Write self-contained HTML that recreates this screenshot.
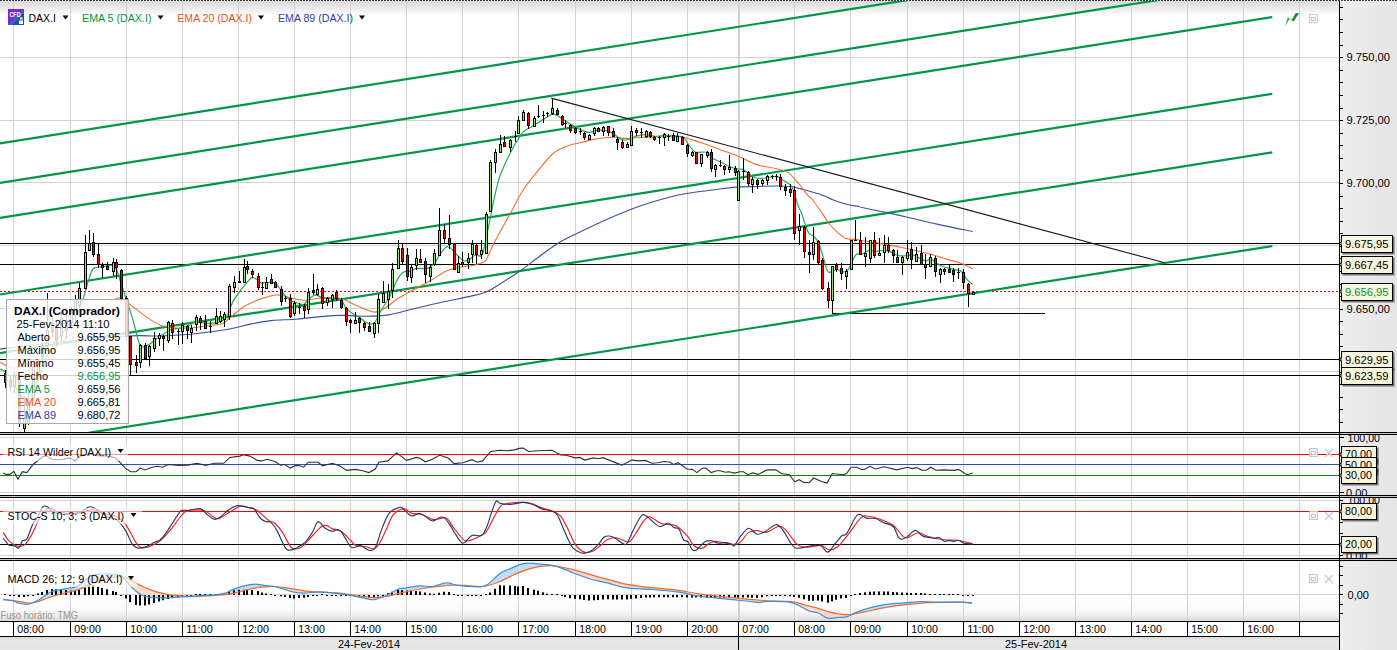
<!DOCTYPE html><html><head><meta charset="utf-8"><style>
html,body{margin:0;padding:0;background:#fff;overflow:hidden}
svg{display:block;font-family:"Liberation Sans",sans-serif}
</style></head><body>
<svg width="1397" height="650" viewBox="0 0 1397 650">
<defs>
<linearGradient id="hdr" x1="0" y1="0" x2="0" y2="1"><stop offset="0" stop-color="#d6d6d6"/><stop offset="1" stop-color="#ffffff"/></linearGradient>
<linearGradient id="axg" x1="0" y1="0" x2="1" y2="0"><stop offset="0" stop-color="#eeeeee"/><stop offset="1" stop-color="#e4e4e4"/></linearGradient>
<linearGradient id="botg" x1="0" y1="0" x2="0" y2="1"><stop offset="0" stop-color="#ffffff" stop-opacity="0"/><stop offset="1" stop-color="#d8d8d8"/></linearGradient>
<linearGradient id="dateg" x1="0" y1="0" x2="0" y2="1"><stop offset="0" stop-color="#d8d8d8"/><stop offset="0.3" stop-color="#e8e8e8"/><stop offset="1" stop-color="#e4e4e4"/></linearGradient>
<filter id="sh" x="-20%" y="-30%" width="150%" height="170%"><feDropShadow dx="1.5" dy="1.5" stdDeviation="0.7" flood-color="#000" flood-opacity="0.5"/></filter>
<clipPath id="cpMain"><rect x="0" y="1" width="1339" height="431"/></clipPath>
<clipPath id="cpRSI"><rect x="0" y="435" width="1339" height="60"/></clipPath>
<clipPath id="cpSTO"><rect x="0" y="498" width="1339" height="60"/></clipPath>
<clipPath id="cpMAC"><rect x="0" y="561" width="1339" height="60"/></clipPath>
<clipPath id="cpAxR"><rect x="1340" y="435" width="57" height="60"/></clipPath>
<clipPath id="cpAxS"><rect x="1340" y="498" width="57" height="60"/></clipPath>
<clipPath id="cpAxM"><rect x="1340" y="1" width="57" height="431"/></clipPath>
</defs>
<rect x="0" y="0" width="1397" height="650" fill="#fff"/>

<rect x="0" y="0" width="1339" height="16" fill="url(#hdr)"/>
<rect x="1340" y="0" width="57" height="650" fill="url(#axg)"/>
<rect x="0" y="603" width="1339" height="18" fill="url(#botg)"/>
<rect x="0" y="637" width="1339" height="13" fill="url(#dateg)"/>
<path d="M13.5 1V432M13.5 435V495M13.5 498V558M13.5 561V621M70.5 1V432M70.5 435V495M70.5 498V558M70.5 561V621M126.5 1V432M126.5 435V495M126.5 498V558M126.5 561V621M182.5 1V432M182.5 435V495M182.5 498V558M182.5 561V621M238.5 1V432M238.5 435V495M238.5 498V558M238.5 561V621M294.5 1V432M294.5 435V495M294.5 498V558M294.5 561V621M350.5 1V432M350.5 435V495M350.5 498V558M350.5 561V621M406.5 1V432M406.5 435V495M406.5 498V558M406.5 561V621M462.5 1V432M462.5 435V495M462.5 498V558M462.5 561V621M518.5 1V432M518.5 435V495M518.5 498V558M518.5 561V621M575.5 1V432M575.5 435V495M575.5 498V558M575.5 561V621M631.5 1V432M631.5 435V495M631.5 498V558M631.5 561V621M687.5 1V432M687.5 435V495M687.5 498V558M687.5 561V621M738.5 1V432M738.5 435V495M738.5 498V558M738.5 561V621M794.5 1V432M794.5 435V495M794.5 498V558M794.5 561V621M850.5 1V432M850.5 435V495M850.5 498V558M850.5 561V621M907.5 1V432M907.5 435V495M907.5 498V558M907.5 561V621M963.5 1V432M963.5 435V495M963.5 498V558M963.5 561V621M1019.5 1V432M1019.5 435V495M1019.5 498V558M1019.5 561V621M1075.5 1V432M1075.5 435V495M1075.5 498V558M1075.5 561V621M1131.5 1V432M1131.5 435V495M1131.5 498V558M1131.5 561V621M1187.5 1V432M1187.5 435V495M1187.5 498V558M1187.5 561V621M1243.5 1V432M1243.5 435V495M1243.5 498V558M1243.5 561V621M1299.5 1V432M1299.5 435V495M1299.5 498V558M1299.5 561V621M0 57.5H1339M0 120.5H1339M0 182.5H1339M0 245.5H1339M0 308.5H1339M0 371.5H1339M0 437.5H1339M0 492.5H1339M0 500.5H1339M0 555.5H1339M0 594.5H1339" stroke="#d2d2d2" stroke-width="1" fill="none" shape-rendering="crispEdges"/>
<path d="M739 1V432M739 435V495M739 498V558M739 561V621" stroke="#d2d2d2" stroke-width="2" fill="none" shape-rendering="crispEdges"/>
<path d="M0 0.5H1397" stroke="#404040" stroke-width="1" stroke-dasharray="2 1" shape-rendering="crispEdges"/>
<g clip-path="url(#cpMain)">
<path d="M0 243.5H1339M0 264.5H1339M0 359.5H1339M0 375.5H1339M832 313.5H1045" stroke="#000" stroke-width="1" shape-rendering="crispEdges"/>
<path d="M0 291.5H1339" stroke="#ff0000" stroke-width="1" stroke-dasharray="2 2" shape-rendering="crispEdges"/>
<path d="M0 143.3 L1272.3 -57.47M0 182.8 L1272.3 -17.97M0 217.8 L1272.3 17.03M0 294.5 L1272.3 93.73M0 353.1 L1272.3 152.33M0 446.8 L1272.3 246.03" stroke="#00964a" stroke-width="2.2" fill="none"/>
<path d="M551.2 98.1 L1164.6 262.7" stroke="#1a1a1a" stroke-width="1.1" fill="none"/>
<path d="M0.0 349.0 C10.0 347.8 38.7 344.2 60.0 342.0 C81.3 339.8 111.3 337.0 128.0 336.0 C144.7 335.0 148.8 336.4 160.0 336.0 C171.2 335.6 183.4 335.0 195.0 333.8 C206.6 332.6 220.4 330.6 229.6 329.0 C238.8 327.4 243.5 325.5 250.4 324.1 C257.3 322.7 263.8 321.4 271.2 320.6 C278.6 319.8 287.6 319.9 295.0 319.3 C302.4 318.7 307.8 317.8 315.4 317.1 C323.0 316.5 332.4 315.5 340.8 315.4 C349.2 315.3 357.9 316.4 366.1 316.3 C374.3 316.2 382.2 315.8 390.0 314.6 C397.8 313.4 404.3 311.0 412.7 309.0 C421.1 307.0 430.8 304.6 440.4 302.5 C449.9 300.4 462.4 298.1 470.0 296.4 C477.6 294.6 481.0 294.1 486.0 292.0 C491.0 289.9 494.3 287.5 500.0 284.0 C505.7 280.5 513.3 275.7 520.0 271.0 C526.7 266.3 533.3 260.8 540.0 256.0 C546.7 251.2 553.3 246.0 560.0 242.0 C566.7 238.0 571.7 236.0 580.0 232.0 C588.3 228.0 600.0 222.3 610.0 218.0 C620.0 213.7 630.0 209.5 640.0 206.0 C650.0 202.5 661.7 199.2 670.0 197.0 C678.3 194.8 682.6 194.2 690.0 193.0 C697.4 191.8 706.1 190.7 714.3 189.7 C722.4 188.7 731.6 187.4 738.9 186.9 C746.2 186.4 752.1 186.7 758.0 186.5 C763.9 186.3 768.7 186.0 774.1 186.0 C779.5 186.0 785.3 185.9 790.3 186.5 C795.3 187.1 799.4 188.5 804.3 189.8 C809.1 191.1 814.5 192.4 819.4 194.1 C824.2 195.8 828.9 198.3 833.4 200.0 C837.9 201.7 842.2 203.2 846.3 204.3 C850.4 205.4 855.4 205.9 858.0 206.4 C860.6 206.9 857.1 206.5 862.0 207.5 C866.9 208.5 878.9 210.8 887.4 212.6 C895.9 214.4 904.2 216.5 912.7 218.5 C921.2 220.5 928.1 222.2 938.1 224.4 C948.1 226.6 967.0 230.4 972.8 231.6" stroke="#3c50a0" stroke-width="1.1" fill="none"/>
<path d="M0.0 362.0 C2.5 363.0 8.3 368.3 15.0 368.0 C21.7 367.7 30.8 365.5 40.0 360.0 C49.2 354.5 60.0 343.3 70.0 335.0 C80.0 326.7 92.0 316.2 100.0 310.0 C108.0 303.8 113.3 299.2 118.0 298.0 C122.7 296.8 123.5 300.0 128.0 303.0 C132.5 306.0 139.7 312.3 145.0 316.0 C150.3 319.7 155.0 323.0 160.0 325.0 C165.0 327.0 170.0 327.5 175.0 328.0 C180.0 328.5 184.3 328.4 190.0 328.0 C195.7 327.6 203.5 326.3 208.9 325.5 C214.3 324.7 219.2 324.7 222.7 323.4 C226.1 322.1 227.3 319.8 229.6 317.9 C231.9 316.0 234.3 314.1 236.6 312.3 C238.9 310.5 240.7 308.5 243.5 306.8 C246.3 305.1 249.7 303.4 253.2 301.9 C256.7 300.4 260.6 298.9 264.3 297.8 C268.0 296.7 272.1 295.4 275.3 295.0 C278.5 294.6 281.2 295.2 283.6 295.7 C286.1 296.1 286.7 296.9 290.0 297.7 C293.3 298.4 297.9 300.2 303.5 300.2 C309.1 300.2 317.6 298.0 323.8 297.7 C330.0 297.4 335.2 297.1 340.8 298.5 C346.4 299.9 352.1 303.8 357.7 306.1 C363.3 308.4 370.1 311.8 374.6 312.1 C379.2 312.4 381.4 310.2 385.0 308.1 C388.6 306.1 392.4 302.3 396.1 299.8 C399.8 297.3 401.6 296.4 407.1 293.3 C412.6 290.2 422.8 285.0 429.3 281.3 C435.8 277.6 441.0 273.5 445.9 271.2 C450.8 268.9 454.8 268.4 458.8 267.5 C462.8 266.6 466.5 266.6 470.0 266.0 C473.5 265.4 477.3 264.6 480.0 263.6 C482.7 262.6 484.0 262.8 486.0 260.0 C488.0 257.2 489.7 251.7 492.0 247.0 C494.3 242.3 496.9 237.6 500.0 232.0 C503.1 226.4 506.4 220.5 510.3 213.5 C514.2 206.5 518.6 197.0 523.3 189.8 C528.0 182.6 533.3 176.5 538.3 170.4 C543.3 164.3 548.4 157.3 553.4 153.2 C558.4 149.1 563.6 147.4 568.5 145.6 C573.4 143.8 578.6 143.1 582.8 142.1 C587.0 141.1 589.9 140.1 593.5 139.4 C597.1 138.7 600.7 138.2 604.3 137.8 C607.9 137.5 611.5 137.2 615.1 137.3 C618.7 137.4 622.2 138.3 625.8 138.4 C629.4 138.5 633.0 138.0 636.6 137.8 C640.2 137.6 641.5 137.3 647.4 137.1 C653.3 136.9 666.0 136.8 672.0 136.8 C678.0 136.9 678.5 136.4 683.5 137.4 C688.5 138.4 695.8 140.9 701.9 142.9 C708.0 144.9 714.2 147.4 720.4 149.7 C726.6 152.0 732.6 153.9 738.9 156.5 C745.2 159.1 752.1 163.1 758.0 165.0 C763.9 166.9 769.1 166.9 774.1 168.2 C779.1 169.4 784.9 170.9 788.1 172.5 C791.3 174.1 791.3 175.6 793.5 177.9 C795.7 180.2 798.8 183.6 801.1 186.5 C803.4 189.4 805.6 192.8 807.5 195.1 C809.4 197.3 810.3 197.0 812.7 200.0 C815.1 203.0 819.2 208.9 822.0 212.9 C824.8 216.9 826.6 220.6 829.4 224.0 C832.2 227.4 835.8 230.9 838.6 233.3 C841.4 235.7 842.6 237.3 846.0 238.4 C849.4 239.5 856.2 239.3 858.9 239.7 C861.6 240.0 858.7 239.9 862.0 240.5 C865.3 241.1 873.3 242.1 878.9 243.1 C884.5 244.1 890.2 245.3 895.8 246.4 C901.4 247.5 907.1 248.5 912.7 249.8 C918.3 251.1 924.0 252.4 929.6 254.0 C935.2 255.6 941.0 257.4 946.6 259.1 C952.2 260.8 959.1 262.6 963.5 264.2 C967.9 265.8 971.2 268.1 972.8 268.9" stroke="#f07030" stroke-width="1.1" fill="none"/>
<path d="M0.0 369.0 C0.8 369.4 3.3 370.3 5.0 371.5 C6.7 372.7 7.5 372.1 10.0 376.0 C12.5 379.9 16.7 391.3 20.0 395.0 C23.3 398.7 26.7 401.3 30.0 398.0 C33.3 394.7 36.7 383.0 40.0 375.0 C43.3 367.0 46.7 356.5 50.0 350.0 C53.3 343.5 56.7 340.2 60.0 336.0 C63.3 331.8 67.0 329.0 70.0 325.0 C73.0 321.0 75.9 316.2 78.0 312.0 C80.1 307.8 81.1 305.0 82.8 300.0 C84.5 295.0 86.3 287.2 88.0 282.0 C89.7 276.8 90.9 271.5 93.0 269.0 C95.1 266.5 97.1 267.5 100.6 267.0 C104.1 266.5 110.8 263.8 114.0 266.0 C117.2 268.2 117.9 274.3 120.0 280.0 C122.1 285.7 124.3 293.3 126.5 300.0 C128.7 306.7 130.8 312.5 133.0 320.0 C135.2 327.5 137.5 340.8 140.0 345.0 C142.5 349.2 145.5 345.8 148.0 345.0 C150.5 344.2 152.7 341.7 155.0 340.0 C157.3 338.3 159.5 336.7 162.0 335.0 C164.5 333.3 167.0 331.2 170.0 330.0 C173.0 328.8 176.7 328.8 180.0 328.0 C183.3 327.2 187.5 326.0 190.0 325.0 C192.5 324.0 191.8 322.3 195.0 322.0 C198.2 321.7 204.3 323.6 208.9 323.4 C213.5 323.2 219.5 322.2 222.7 320.6 C225.9 319.0 226.6 316.7 228.2 313.7 C229.8 310.7 230.3 306.5 232.4 302.6 C234.5 298.7 238.2 293.6 240.7 290.2 C243.2 286.8 245.8 284.0 247.6 281.9 C249.4 279.8 250.2 278.0 251.8 277.7 C253.4 277.4 255.7 278.9 257.3 279.8 C258.9 280.7 259.9 282.8 261.5 283.2 C263.1 283.6 264.7 282.5 267.0 282.5 C269.3 282.5 273.0 281.9 275.3 283.2 C277.6 284.5 279.0 287.9 280.9 290.2 C282.8 292.5 284.5 295.3 286.4 297.1 C288.2 298.9 290.3 300.2 292.0 301.2 C293.7 302.1 294.9 302.2 296.8 302.8 C298.7 303.4 301.6 305.1 303.5 304.5 C305.4 303.9 306.3 301.0 308.3 299.4 C310.3 297.8 313.1 295.4 315.4 295.1 C317.7 294.8 319.6 297.1 322.1 297.7 C324.6 298.3 327.5 298.2 330.6 298.5 C333.7 298.8 338.3 297.8 340.8 299.4 C343.3 300.9 343.6 305.3 345.8 307.8 C348.1 310.3 352.0 313.1 354.3 314.6 C356.6 316.2 357.7 316.0 359.4 317.1 C361.1 318.2 362.8 320.3 364.5 321.4 C366.2 322.5 367.8 323.7 369.5 323.9 C371.2 324.1 372.9 324.5 374.6 322.7 C376.3 320.9 378.0 315.9 379.7 312.9 C381.4 309.9 383.1 307.3 384.8 304.5 C386.5 301.7 388.7 298.3 390.0 296.0 C391.3 293.7 391.1 293.5 392.4 290.6 C393.7 287.7 396.0 281.7 397.9 278.6 C399.8 275.5 401.4 273.3 403.5 272.1 C405.6 270.9 408.7 271.8 410.8 271.2 C412.9 270.6 413.6 268.9 416.4 268.4 C419.2 267.9 424.5 269.2 427.4 268.4 C430.3 267.6 431.7 266.2 433.9 263.8 C436.1 261.4 438.4 256.5 440.4 253.7 C442.4 250.9 444.4 248.3 445.9 247.2 C447.4 246.1 448.2 246.4 449.6 247.2 C451.0 248.0 452.1 249.7 454.2 251.8 C456.3 254.0 460.2 258.7 462.5 260.1 C464.8 261.5 465.9 261.0 468.0 260.1 C470.1 259.2 473.1 255.8 475.4 255.0 C477.7 254.2 480.1 258.2 482.0 255.0 C483.9 251.8 485.3 241.8 486.6 236.0 C487.9 230.2 488.6 226.3 489.9 220.0 C491.2 213.7 492.6 205.6 494.2 198.4 C495.8 191.2 497.6 183.0 499.6 176.9 C501.6 170.8 503.7 166.8 506.0 161.8 C508.3 156.8 511.5 150.6 513.6 146.7 C515.8 142.8 517.3 140.6 518.9 138.1 C520.5 135.6 520.8 133.8 523.3 131.6 C525.8 129.4 530.8 127.2 534.0 125.2 C537.2 123.2 539.6 121.6 542.7 119.8 C545.8 118.0 549.7 114.9 552.4 114.4 C555.1 113.9 556.1 115.2 558.8 116.6 C561.5 118.0 565.8 121.3 568.5 123.0 C571.2 124.7 573.2 125.4 575.2 126.5 C577.2 127.6 578.3 128.8 580.6 129.8 C582.9 130.8 586.3 132.3 589.2 132.4 C592.1 132.5 594.8 130.6 597.8 130.3 C600.8 130.0 604.6 130.0 607.5 130.8 C610.4 131.6 613.0 133.8 615.1 135.1 C617.2 136.4 618.6 138.1 620.4 138.9 C622.2 139.7 624.0 140.1 625.8 140.0 C627.6 139.9 629.4 139.0 631.2 138.4 C633.0 137.8 634.3 136.8 636.6 136.2 C638.9 135.6 642.3 134.6 645.2 134.6 C648.1 134.6 650.8 136.0 653.8 136.2 C656.8 136.4 659.6 135.7 663.5 135.7 C667.4 135.7 674.0 135.9 677.3 136.2 C680.6 136.5 681.5 135.8 683.5 137.4 C685.5 139.0 687.6 143.5 689.6 146.0 C691.6 148.5 692.9 151.2 695.8 152.2 C698.7 153.2 704.2 151.3 706.9 152.2 C709.6 153.1 709.5 156.1 711.8 157.7 C714.0 159.3 717.5 160.6 720.4 162.0 C723.3 163.4 726.3 165.2 729.0 166.3 C731.7 167.4 734.1 168.3 736.4 168.8 C738.7 169.3 740.5 168.6 742.6 169.4 C744.7 170.2 746.5 172.3 748.7 173.7 C751.0 175.1 753.1 177.3 756.1 178.0 C759.1 178.7 763.2 178.2 766.6 177.9 C770.0 177.6 774.0 176.2 776.3 176.3 C778.6 176.4 778.3 177.1 780.6 178.5 C782.9 179.9 788.1 182.8 790.3 184.9 C792.4 187.0 792.2 187.5 793.5 190.8 C794.8 194.1 796.4 200.9 797.8 204.8 C799.2 208.8 800.8 211.1 802.1 214.5 C803.4 217.9 804.2 222.2 805.4 225.3 C806.5 228.4 807.5 231.4 809.0 233.3 C810.5 235.2 812.9 235.2 814.6 237.0 C816.3 238.8 817.7 240.7 819.2 244.4 C820.7 248.1 822.3 254.5 823.8 259.1 C825.3 263.7 826.2 270.4 828.4 272.1 C830.6 273.8 834.5 269.3 836.8 269.3 C839.1 269.3 840.5 272.0 842.3 272.1 C844.1 272.2 846.3 271.8 847.8 270.2 C849.3 268.6 850.1 265.4 851.5 262.8 C852.9 260.2 854.5 256.0 856.2 254.5 C858.0 253.0 859.9 254.6 862.0 254.0 C864.1 253.4 866.5 251.1 868.8 250.7 C871.0 250.3 873.5 251.5 875.5 251.5 C877.5 251.5 878.6 250.8 880.6 250.7 C882.6 250.6 885.3 250.3 887.4 250.7 C889.5 251.1 891.5 252.4 893.3 253.2 C895.1 254.0 896.0 255.3 898.4 255.7 C900.8 256.1 905.3 255.8 907.7 255.7 C910.1 255.6 911.0 254.6 912.7 254.9 C914.4 255.2 916.1 256.5 917.8 257.4 C919.5 258.2 921.5 259.4 922.9 260.0 C924.3 260.6 924.9 260.9 926.3 260.8 C927.7 260.7 929.6 258.7 931.3 259.1 C933.0 259.5 934.4 262.0 936.4 263.3 C938.4 264.6 941.0 265.9 943.2 266.7 C945.5 267.5 947.6 267.8 949.9 268.4 C952.1 269.0 954.7 269.5 956.7 270.1 C958.7 270.7 960.1 270.2 961.8 271.8 C963.5 273.4 965.1 277.3 966.9 279.4 C968.7 281.5 971.8 283.6 972.8 284.5" stroke="#22aa5a" stroke-width="1.2" fill="none"/>
<path d="M5.5 370V388M10.5 376V391M14.5 372V393M19.5 376V427M24.5 396V433M28.5 392V425M33.5 362V401M38.5 360V377M42.5 338V363M47.5 293V351M52.5 318V337M56.5 320V346M61.5 312V341M66.5 315V339M71.5 306V329M75.5 295V321M79.5 283V311M85.5 235V289M89.5 230V251M93.5 233V257M98.5 243V268M102.5 263V278M107.5 262V270M113.5 258V276M116.5 259V279M121.5 269V301M126.5 296V341M130.5 336V375M136.5 355V373M140.5 344V368M145.5 343V360M149.5 345V366M154.5 332V352M159.5 333V346M163.5 335V351M168.5 321V343M172.5 320V339M178.5 329V345M182.5 322V344M187.5 325V339M191.5 325V343M196.5 315V331M200.5 316V330M205.5 315V329M210.5 321V333M216.5 308V324M220.5 311V323M224.5 312V327M229.5 284V320M234.5 276V293M239.5 271V283M244.5 259V283M247.5 261V274M252.5 269V278M258.5 273V290M262.5 282V295M266.5 277V289M271.5 274V284M275.5 281V288M281.5 286V306M285.5 296V302M290.5 294V318M294.5 301V316M299.5 303V314M304.5 304V318M308.5 288V314M313.5 274V295M317.5 284V296M322.5 287V309M327.5 297V306M332.5 294V308M336.5 290V301M341.5 298V309M346.5 307V326M350.5 319V333M355.5 312V324M359.5 317V333M364.5 322V331M369.5 322V332M374.5 322V338M378.5 294V333M383.5 281V303M388.5 284V309M392.5 263V298M398.5 240V269M402.5 244V264M407.5 248V281M411.5 265V283M416.5 249V270M420.5 249V263M425.5 258V283M430.5 264V282M434.5 249V266M439.5 208V256M444.5 224V244M449.5 215V249M454.5 243V270M458.5 256V273M462.5 252V267M468.5 253V269M472.5 240V263M476.5 244V264M481.5 240V259M486.5 212V254M490.5 160V212M495.5 149V173M500.5 135V153M504.5 136V147M510.5 139V152M515.5 131V142M518.5 116V134M523.5 110V121M528.5 112V129M534.5 116V127M538.5 105V118M543.5 111V123M547.5 112V117M552.5 98V115M557.5 108V115M562.5 115V126M565.5 120V128M570.5 124V133M575.5 127V134M580.5 128V135M584.5 132V140M589.5 134V140M594.5 127V136M598.5 127V132M603.5 126V136M608.5 126V136M613.5 128V137M617.5 137V150M622.5 140V149M627.5 142V148M631.5 126V146M636.5 128V136M641.5 128V138M646.5 130V138M650.5 131V138M654.5 136V141M659.5 136V144M664.5 133V146M668.5 134V141M673.5 133V141M677.5 133V142M682.5 136V145M687.5 144V157M692.5 151V157M696.5 152V164M701.5 154V167M707.5 151V158M711.5 149V172M715.5 164V177M720.5 160V167M724.5 165V175M729.5 155V173M735.5 166V176M738.5 170V201M743.5 158V180M748.5 171V186M752.5 177V193M757.5 179V189M762.5 179V186M767.5 175V185M772.5 175V179M776.5 174V181M780.5 174V190M785.5 184V196M790.5 184V197M794.5 186V240M799.5 214V245M804.5 226V258M809.5 240V273M813.5 227V260M818.5 240V265M822.5 258V290M828.5 282V308M832.5 266V314M836.5 263V272M841.5 263V280M846.5 269V289M851.5 240V270M855.5 220V241M860.5 232V255M865.5 237V267M870.5 240V263M874.5 232V258M879.5 238V256M884.5 235V263M888.5 237V253M893.5 249V263M897.5 250V263M902.5 256V275M907.5 240V261M911.5 242V269M916.5 247V262M921.5 245V265M925.5 254V279M930.5 254V267M935.5 256V277M940.5 268V283M944.5 268V275M949.5 265V273M953.5 268V282M958.5 268V279M963.5 269V289M968.5 283V307M973.5 291V295" stroke="#000" stroke-width="1" shape-rendering="crispEdges"/>
<path d="M4 373h3v10h-3zM9 380h3v7h-3zM13 376h3v11h-3zM18 380h3v44h-3zM23 418h3v11h-3zM27 400h3v22h-3zM32 367h3v31h-3zM37 365h3v8h-3zM41 345h3v12h-3zM46 330h3v16h-3zM51 323h3v9h-3zM55 325h3v16h-3zM60 318h3v18h-3zM65 320h3v11h-3zM70 312h3v11h-3zM74 300h3v16h-3zM78 288h3v18h-3zM84 252h3v37h-3zM88 243h3v8h-3zM92 242h3v13h-3zM97 254h3v11h-3zM101 265h3v3h-3zM106 266h3v4h-3zM112 262h3v10h-3zM115 262h3v6h-3zM120 270h3v29h-3zM125 298h3v39h-3zM129 336h3v29h-3zM135 362h3v4h-3zM139 345h3v18h-3zM144 345h3v14h-3zM148 346h3v11h-3zM153 338h3v11h-3zM158 335h3v4h-3zM162 336h3v3h-3zM167 322h3v19h-3zM171 323h3v10h-3zM177 331h3v1h-3zM181 325h3v7h-3zM186 326h3v5h-3zM190 328h3v5h-3zM195 317h3v8h-3zM199 318h3v5h-3zM204 321h3v8h-3zM209 326h3v1h-3zM215 316h3v8h-3zM219 316h3v6h-3zM223 314h3v6h-3zM228 286h3v31h-3zM233 282h3v6h-3zM238 281h3v2h-3zM243 267h3v16h-3zM246 266h3v4h-3zM251 271h3v4h-3zM257 276h3v12h-3zM261 287h3v1h-3zM265 282h3v7h-3zM270 279h3v5h-3zM274 282h3v6h-3zM280 289h3v13h-3zM284 298h3v1h-3zM289 298h3v19h-3zM293 303h3v11h-3zM298 307h3v1h-3zM303 306h3v5h-3zM307 292h3v18h-3zM312 290h3v3h-3zM316 289h3v6h-3zM321 288h3v16h-3zM326 298h3v5h-3zM331 295h3v5h-3zM335 292h3v7h-3zM340 300h3v8h-3zM345 308h3v14h-3zM349 320h3v3h-3zM354 320h3v4h-3zM358 318h3v5h-3zM363 323h3v5h-3zM368 326h3v6h-3zM373 323h3v11h-3zM377 299h3v25h-3zM382 293h3v10h-3zM387 291h3v9h-3zM391 269h3v22h-3zM397 248h3v21h-3zM401 248h3v14h-3zM406 255h3v22h-3zM410 267h3v11h-3zM415 258h3v8h-3zM419 259h3v4h-3zM424 261h3v14h-3zM429 267h3v10h-3zM433 253h3v12h-3zM438 230h3v26h-3zM443 230h3v9h-3zM448 238h3v7h-3zM453 244h3v26h-3zM457 263h3v10h-3zM461 262h3v3h-3zM467 258h3v5h-3zM471 244h3v11h-3zM475 245h3v10h-3zM480 250h3v5h-3zM485 214h3v40h-3zM489 162h3v50h-3zM494 152h3v11h-3zM499 144h3v9h-3zM503 142h3v5h-3zM509 140h3v8h-3zM514 136h3v1h-3zM517 120h3v14h-3zM522 112h3v9h-3zM527 113h3v13h-3zM533 118h3v9h-3zM537 116h3v1h-3zM542 115h3v1h-3zM546 113h3v1h-3zM551 108h3v6h-3zM556 110h3v5h-3zM561 116h3v9h-3zM564 123h3v1h-3zM569 125h3v6h-3zM574 128h3v5h-3zM579 131h3v1h-3zM583 133h3v5h-3zM588 135h3v5h-3zM593 128h3v6h-3zM597 128h3v4h-3zM602 127h3v5h-3zM607 126h3v7h-3zM612 131h3v6h-3zM616 139h3v4h-3zM621 142h3v6h-3zM626 144h3v4h-3zM630 131h3v15h-3zM635 130h3v3h-3zM640 132h3v1h-3zM645 131h3v6h-3zM649 132h3v5h-3zM653 137h3v3h-3zM658 137h3v1h-3zM663 134h3v4h-3zM667 136h3v1h-3zM672 135h3v6h-3zM676 136h3v6h-3zM681 137h3v8h-3zM686 145h3v9h-3zM691 152h3v4h-3zM695 152h3v12h-3zM700 154h3v10h-3zM706 152h3v4h-3zM710 152h3v17h-3zM714 165h3v5h-3zM719 165h3v1h-3zM723 166h3v4h-3zM728 167h3v3h-3zM734 168h3v5h-3zM737 171h3v30h-3zM742 171h3v1h-3zM747 172h3v12h-3zM751 179h3v6h-3zM756 180h3v5h-3zM761 180h3v4h-3zM766 176h3v5h-3zM771 176h3v1h-3zM775 176h3v1h-3zM779 177h3v10h-3zM784 187h3v4h-3zM789 189h3v4h-3zM793 190h3v44h-3zM798 226h3v5h-3zM803 227h3v25h-3zM808 252h3v3h-3zM812 242h3v13h-3zM817 241h3v22h-3zM821 260h3v29h-3zM827 288h3v13h-3zM831 266h3v35h-3zM835 265h3v5h-3zM840 268h3v6h-3zM845 271h3v6h-3zM850 240h3v30h-3zM854 240h3v1h-3zM859 240h3v15h-3zM864 253h3v4h-3zM869 240h3v19h-3zM873 240h3v16h-3zM878 253h3v3h-3zM883 245h3v8h-3zM887 245h3v6h-3zM892 250h3v6h-3zM896 257h3v6h-3zM901 257h3v6h-3zM906 252h3v7h-3zM910 249h3v11h-3zM915 254h3v8h-3zM920 253h3v12h-3zM924 264h3v4h-3zM929 257h3v10h-3zM934 258h3v14h-3zM939 269h3v6h-3zM943 269h3v3h-3zM948 269h3v4h-3zM952 270h3v5h-3zM957 272h3v1h-3zM962 272h3v11h-3zM967 284h3v10h-3zM972 292h3v3h-3z" fill="#000" shape-rendering="crispEdges"/>
<path d="M14 377h1v9h-1zM24 419h1v9h-1zM28 401h1v20h-1zM33 368h1v29h-1zM38 366h1v6h-1zM42 346h1v10h-1zM47 331h1v14h-1zM61 319h1v16h-1zM71 313h1v9h-1zM75 301h1v14h-1zM79 289h1v16h-1zM85 253h1v35h-1zM89 244h1v6h-1zM113 263h1v8h-1zM140 346h1v16h-1zM149 347h1v9h-1zM154 339h1v9h-1zM159 336h1v2h-1zM168 323h1v17h-1zM182 326h1v5h-1zM191 329h1v3h-1zM196 318h1v6h-1zM216 317h1v6h-1zM220 317h1v4h-1zM224 315h1v4h-1zM229 287h1v29h-1zM234 283h1v4h-1zM244 268h1v14h-1zM266 283h1v5h-1zM294 304h1v9h-1zM308 293h1v16h-1zM317 290h1v4h-1zM327 299h1v3h-1zM332 296h1v3h-1zM355 321h1v2h-1zM374 324h1v9h-1zM378 300h1v23h-1zM383 294h1v8h-1zM388 292h1v7h-1zM392 270h1v20h-1zM398 249h1v19h-1zM411 268h1v9h-1zM416 259h1v6h-1zM430 268h1v8h-1zM434 254h1v10h-1zM439 231h1v24h-1zM458 264h1v8h-1zM468 259h1v3h-1zM472 245h1v9h-1zM481 251h1v3h-1zM486 215h1v38h-1zM490 163h1v48h-1zM495 153h1v9h-1zM500 145h1v7h-1zM510 141h1v6h-1zM518 121h1v12h-1zM523 113h1v7h-1zM534 119h1v7h-1zM552 109h1v4h-1zM589 136h1v3h-1zM594 129h1v4h-1zM603 128h1v3h-1zM627 145h1v2h-1zM631 132h1v13h-1zM646 132h1v4h-1zM664 135h1v2h-1zM677 137h1v4h-1zM692 153h1v2h-1zM701 155h1v8h-1zM707 153h1v2h-1zM715 166h1v3h-1zM729 168h1v1h-1zM738 172h1v28h-1zM752 180h1v4h-1zM762 181h1v2h-1zM767 177h1v3h-1zM799 227h1v3h-1zM813 243h1v11h-1zM832 267h1v33h-1zM846 272h1v4h-1zM851 241h1v28h-1zM865 254h1v2h-1zM870 241h1v17h-1zM879 254h1v1h-1zM884 246h1v6h-1zM902 258h1v4h-1zM907 253h1v5h-1zM916 255h1v6h-1zM930 258h1v8h-1zM940 270h1v4h-1zM973 293h1v1h-1z" fill="#8ee06a" shape-rendering="crispEdges"/>
<path d="M5 374h1v8h-1zM10 381h1v5h-1zM19 381h1v42h-1zM52 324h1v7h-1zM56 326h1v14h-1zM66 321h1v9h-1zM93 243h1v11h-1zM98 255h1v9h-1zM102 266h1v1h-1zM107 267h1v2h-1zM116 263h1v4h-1zM121 271h1v27h-1zM126 299h1v37h-1zM130 337h1v27h-1zM136 363h1v2h-1zM145 346h1v12h-1zM163 337h1v1h-1zM172 324h1v8h-1zM187 327h1v3h-1zM200 319h1v3h-1zM205 322h1v6h-1zM247 267h1v2h-1zM252 272h1v2h-1zM258 277h1v10h-1zM271 280h1v3h-1zM275 283h1v4h-1zM281 290h1v11h-1zM290 299h1v17h-1zM304 307h1v3h-1zM313 291h1v1h-1zM322 289h1v14h-1zM336 293h1v5h-1zM341 301h1v6h-1zM346 309h1v12h-1zM350 321h1v1h-1zM359 319h1v3h-1zM364 324h1v3h-1zM369 327h1v4h-1zM402 249h1v12h-1zM407 256h1v20h-1zM420 260h1v2h-1zM425 262h1v12h-1zM444 231h1v7h-1zM449 239h1v5h-1zM454 245h1v24h-1zM462 263h1v1h-1zM476 246h1v8h-1zM504 143h1v3h-1zM528 114h1v11h-1zM557 111h1v3h-1zM562 117h1v7h-1zM570 126h1v4h-1zM575 129h1v3h-1zM584 134h1v3h-1zM598 129h1v2h-1zM608 127h1v5h-1zM613 132h1v4h-1zM617 140h1v2h-1zM622 143h1v4h-1zM636 131h1v1h-1zM650 133h1v3h-1zM654 138h1v1h-1zM673 136h1v4h-1zM682 138h1v6h-1zM687 146h1v7h-1zM696 153h1v10h-1zM711 153h1v15h-1zM724 167h1v2h-1zM735 169h1v3h-1zM748 173h1v10h-1zM757 181h1v3h-1zM780 178h1v8h-1zM785 188h1v2h-1zM790 190h1v2h-1zM794 191h1v42h-1zM804 228h1v23h-1zM809 253h1v1h-1zM818 242h1v20h-1zM822 261h1v27h-1zM828 289h1v11h-1zM836 266h1v3h-1zM841 269h1v4h-1zM860 241h1v13h-1zM874 241h1v14h-1zM888 246h1v4h-1zM893 251h1v4h-1zM897 258h1v4h-1zM911 250h1v9h-1zM921 254h1v10h-1zM925 265h1v2h-1zM935 259h1v12h-1zM944 270h1v1h-1zM949 270h1v2h-1zM953 271h1v3h-1zM963 273h1v9h-1zM968 285h1v8h-1z" fill="#ff0000" shape-rendering="crispEdges"/>
</g>
<g transform="translate(8,9)">
<rect x="0" y="0" width="16" height="16" fill="#7a28d0"/>
<path d="M16 0V16H0Z" fill="#2a6cc0"/>
<path d="M16 4V16H4Z" fill="#1a3c90" opacity="0.6"/>
<text x="1.5" y="8" font-size="7" font-weight="bold" fill="#fff" textLength="11" lengthAdjust="spacingAndGlyphs">CFD</text>
<rect x="12" y="8.5" width="2.5" height="2" fill="#fff"/><rect x="11" y="11.5" width="4" height="3.5" fill="#fff"/>
</g>
<text x="28.5" y="22" fill="#000" font-size="11" font-weight="normal" text-anchor="start" textLength="27.5" lengthAdjust="spacingAndGlyphs" >DAX.I</text>
<text x="82" y="22" fill="#009640" font-size="11" font-weight="normal" text-anchor="start" textLength="69.5" lengthAdjust="spacingAndGlyphs" >EMA 5 (DAX.I)</text>
<text x="177.3" y="22" fill="#f05020" font-size="11" font-weight="normal" text-anchor="start" textLength="74.7" lengthAdjust="spacingAndGlyphs" >EMA 20 (DAX.I)</text>
<text x="278" y="22" fill="#3040a0" font-size="11" font-weight="normal" text-anchor="start" textLength="75" lengthAdjust="spacingAndGlyphs" >EMA 89 (DAX.I)</text>
<path d="M62.5 15.5h6l-3 4z" fill="#000"/>
<path d="M157.5 15.5h6l-3 4z" fill="#000"/>
<path d="M258 15.5h6l-3 4z" fill="#000"/>
<path d="M359 15.5h6l-3 4z" fill="#000"/>
<path d="M1285.1 25.8L1287.8 17.2L1291.5 19.7L1295.8 13.2L1298.9 13.2L1293.4 21.5L1289.7 19.1Z" fill="#3cb043"/>
<path d="M1295.8 13.2L1298.9 13.2L1293.4 21.5L1292 20.5Z" fill="#1a8a30"/>
<rect x="1309.5" y="14.5" width="8" height="8" fill="#f8f9fb" stroke="#c8d0dc" stroke-width="1"/><rect x="1311.5" y="17.5" width="4" height="3" fill="none" stroke="#c0c8d4" stroke-width="1"/>
<rect x="6.5" y="299.5" width="122" height="124" fill="#ffffff" fill-opacity="0.82" stroke="#a8a8a8" stroke-width="1"/>
<text x="14" y="314.5" fill="#000" font-size="11" font-weight="bold" text-anchor="start" textLength="106" lengthAdjust="spacingAndGlyphs" >DAX.I (Comprador)</text>
<text x="16.5" y="327.5" fill="#000" font-size="11" font-weight="normal" text-anchor="start" textLength="93" lengthAdjust="spacingAndGlyphs" >25-Fev-2014 11:10</text>
<text x="17.5" y="340.5" fill="#000" font-size="11" font-weight="normal" text-anchor="start" >Aberto</text>
<text x="120.5" y="340.5" fill="#000" font-size="11" font-weight="normal" text-anchor="end" textLength="43" lengthAdjust="spacingAndGlyphs" >9.655,95</text>
<text x="17.5" y="353.5" fill="#000" font-size="11" font-weight="normal" text-anchor="start" >Máximo</text>
<text x="120.5" y="353.5" fill="#000" font-size="11" font-weight="normal" text-anchor="end" textLength="43" lengthAdjust="spacingAndGlyphs" >9.656,95</text>
<text x="17.5" y="366.5" fill="#000" font-size="11" font-weight="normal" text-anchor="start" >Mínimo</text>
<text x="120.5" y="366.5" fill="#000" font-size="11" font-weight="normal" text-anchor="end" textLength="43" lengthAdjust="spacingAndGlyphs" >9.655,45</text>
<text x="17.5" y="379.5" fill="#000" font-size="11" font-weight="normal" text-anchor="start" >Fecho</text>
<text x="120.5" y="379.5" fill="#009640" font-size="11" font-weight="normal" text-anchor="end" textLength="43" lengthAdjust="spacingAndGlyphs" >9.656,95</text>
<text x="17.5" y="392.5" fill="#009640" font-size="11" font-weight="normal" text-anchor="start" >EMA 5</text>
<text x="120.5" y="392.5" fill="#000" font-size="11" font-weight="normal" text-anchor="end" textLength="43" lengthAdjust="spacingAndGlyphs" >9.659,56</text>
<text x="17.5" y="405.5" fill="#f05020" font-size="11" font-weight="normal" text-anchor="start" >EMA 20</text>
<text x="120.5" y="405.5" fill="#000" font-size="11" font-weight="normal" text-anchor="end" textLength="43" lengthAdjust="spacingAndGlyphs" >9.665,81</text>
<text x="17.5" y="418.5" fill="#3040a0" font-size="11" font-weight="normal" text-anchor="start" >EMA 89</text>
<text x="120.5" y="418.5" fill="#000" font-size="11" font-weight="normal" text-anchor="end" textLength="43" lengthAdjust="spacingAndGlyphs" >9.680,72</text>
<g clip-path="url(#cpRSI)">
<path d="M0 454.5H1339" stroke="#ff0000" stroke-width="1" shape-rendering="crispEdges"/>
<path d="M0 464.5H1339" stroke="#3050b0" stroke-width="1" shape-rendering="crispEdges"/>
<path d="M0 475.5H1339" stroke="#108020" stroke-width="1" shape-rendering="crispEdges"/>
<path d="M3.2 473.1 L6.3 474.4 L9.8 474.4 L14.0 471.3 L17.9 479.2 L22.4 471.7 L26.8 472.6 L33.1 464.5 L42.9 456.5 L46.5 456.1 L51.9 459.2 L60.8 459.7 L69.8 457.9 L75.2 460.9 L78.7 456.5 L89.5 453.8 L96.6 455.6 L111.0 456.5 L116.3 458.3 L125.3 468.1 L130.6 471.7 L136.0 471.7 L140.5 468.1 L145.0 469.9 L152.1 467.2 L157.5 466.3 L162.8 467.2 L168.2 464.5 L179.0 465.4 L187.9 465.1 L196.9 463.3 L205.8 465.4 L214.7 463.3 L223.7 463.3 L230.0 457.4 L239.8 456.1 L243.4 454.7 L250.0 456.1 L257.2 460.4 L261.6 460.9 L267.0 459.2 L275.1 461.5 L280.4 465.1 L284.9 464.5 L290.3 468.1 L295.6 465.4 L300.1 465.8 L303.7 467.2 L308.2 462.2 L318.0 462.2 L322.5 465.8 L332.3 463.3 L339.5 465.8 L346.6 470.4 L355.6 469.4 L362.7 470.8 L369.0 472.6 L375.3 469.0 L378.8 462.2 L387.8 460.9 L396.7 452.9 L406.6 460.4 L416.4 457.4 L420.0 458.3 L425.4 461.8 L432.5 459.2 L439.7 455.0 L448.6 458.3 L454.0 463.6 L463.0 462.7 L471.9 459.7 L477.3 462.2 L482.6 460.9 L490.7 451.5 L500.0 450.2 L507.2 450.7 L514.3 449.9 L519.7 448.4 L523.3 448.1 L528.6 451.5 L537.6 450.7 L551.9 450.2 L560.8 455.0 L566.2 455.2 L575.2 457.9 L579.6 457.4 L585.0 460.1 L593.1 457.9 L598.4 458.8 L602.9 457.7 L621.7 465.1 L625.3 463.6 L631.5 460.1 L639.6 460.9 L645.0 460.4 L652.1 463.3 L657.5 462.7 L664.6 461.5 L670.0 462.2 L673.6 464.5 L678.1 462.7 L687.0 469.0 L692.4 469.4 L696.9 472.6 L702.2 468.3 L705.8 468.1 L711.2 472.6 L716.5 470.8 L720.1 470.8 L725.5 472.2 L729.1 471.7 L734.4 473.1 L739.8 471.7 L743.4 471.7 L747.9 474.7 L752.7 472.9 L758.1 474.4 L767.0 469.9 L775.9 469.9 L781.3 473.5 L789.4 474.7 L794.7 481.9 L799.2 479.7 L803.7 482.4 L809.0 482.8 L813.5 478.0 L821.6 481.5 L827.0 483.0 L832.3 473.5 L843.1 474.7 L846.6 473.5 L851.1 467.2 L856.5 467.2 L861.8 469.5 L864.5 469.5 L869.9 466.3 L875.3 469.0 L884.2 466.7 L896.7 469.9 L907.5 467.2 L912.0 468.6 L916.4 467.6 L921.8 470.1 L926.3 470.3 L930.7 467.2 L936.1 470.3 L943.3 469.9 L954.0 470.4 L958.5 469.4 L964.8 473.5 L967.4 474.7 L972.8 472.9" stroke="#303030" stroke-width="1.1" fill="none"/>
<rect x="3" y="445" width="125" height="16" fill="#fff" fill-opacity="0.6"/>
<text x="7.5" y="456" fill="#000" font-size="11" font-weight="normal" text-anchor="start" textLength="103.5" lengthAdjust="spacingAndGlyphs" >RSI 14 Wilder (DAX.I)</text>
<path d="M117.5 449h6l-3 4z" fill="#000"/>
</g>
<g clip-path="url(#cpSTO)">
<path d="M0 511.5H1339" stroke="#ff0000" stroke-width="1" shape-rendering="crispEdges"/>
<path d="M0 544.5H1339" stroke="#000" stroke-width="1" shape-rendering="crispEdges"/>
<path d="M3.2 532.4 C4.2 533.8 6.5 538.5 8.9 540.8 C11.3 543.1 15.2 545.6 17.9 546.2 C20.6 546.8 22.7 546.5 25.1 544.4 C27.5 542.3 29.8 538.0 32.2 533.7 C34.6 529.4 37.0 522.5 39.4 518.5 C41.8 514.5 44.4 511.1 46.5 509.5 C48.6 507.9 50.1 508.2 51.9 508.6 C53.7 509.0 54.0 510.9 57.3 511.7 C60.6 512.5 67.1 513.5 71.6 513.5 C76.1 513.5 80.5 512.4 84.1 511.7 C87.7 511.0 90.1 509.3 93.1 509.5 C96.1 509.7 98.1 511.9 102.0 513.1 C105.9 514.3 112.4 514.9 116.3 516.7 C120.2 518.5 122.0 519.5 125.3 523.8 C128.6 528.1 133.3 538.6 136.0 542.6 C138.7 546.6 139.0 546.9 141.4 547.5 C143.8 548.1 147.0 547.5 150.3 546.2 C153.6 545.0 157.5 543.0 161.1 540.0 C164.7 537.0 168.8 531.9 171.8 528.3 C174.8 524.7 176.6 521.3 179.0 518.5 C181.4 515.7 183.1 512.7 186.1 511.3 C189.1 509.9 193.6 509.9 196.9 509.9 C200.2 509.9 203.1 510.2 205.8 511.3 C208.5 512.4 210.8 515.5 213.0 516.7 C215.2 517.9 216.2 519.4 219.2 518.5 C222.2 517.6 227.3 513.3 230.9 511.3 C234.5 509.3 237.5 506.9 240.7 506.3 C243.9 505.7 247.2 507.0 250.0 507.7 C252.8 508.4 254.2 508.4 257.2 510.4 C260.2 512.4 264.9 517.7 267.9 519.9 C270.9 522.1 272.7 521.5 275.1 523.5 C277.5 525.5 279.5 527.9 282.2 531.9 C284.9 535.9 288.5 544.7 291.2 547.5 C293.9 550.3 296.2 548.9 298.3 548.5 C300.4 548.1 301.3 547.5 303.7 545.3 C306.1 543.1 309.6 538.6 312.6 535.5 C315.6 532.4 319.2 528.1 321.6 526.5 C324.0 524.9 325.2 525.2 327.0 525.6 C328.8 526.0 329.9 527.9 332.3 528.9 C334.7 529.9 338.3 529.5 341.3 531.4 C344.3 533.2 347.8 537.7 350.2 540.0 C352.6 542.3 352.9 544.2 355.6 545.3 C358.3 546.4 363.3 546.1 366.3 546.7 C369.3 547.3 371.4 549.3 373.5 548.9 C375.6 548.5 376.7 547.5 378.8 544.4 C380.9 541.3 383.6 535.0 386.0 530.1 C388.4 525.2 390.2 518.5 393.2 514.9 C396.2 511.3 400.9 508.9 403.9 508.6 C406.9 508.3 408.1 512.1 411.1 513.1 C414.1 514.1 418.2 513.5 421.8 514.5 C425.4 515.5 429.5 518.7 432.5 519.4 C435.5 520.1 437.3 518.9 439.7 518.8 C442.1 518.6 444.5 516.9 446.9 518.5 C449.3 520.1 451.3 524.9 454.0 528.3 C456.7 531.7 460.6 537.0 463.0 539.1 C465.4 541.2 465.6 541.2 468.3 540.8 C471.0 540.3 476.1 537.9 479.1 536.4 C482.1 534.9 483.8 534.9 486.2 531.9 C488.6 528.9 491.1 522.7 493.4 518.5 C495.7 514.3 498.0 509.2 500.0 506.8 C502.0 504.4 501.5 504.5 505.4 503.8 C509.3 503.1 518.8 502.4 523.3 502.4 C527.8 502.4 528.9 502.9 532.2 503.8 C535.5 504.8 539.3 506.9 542.9 508.1 C546.5 509.4 550.7 509.9 553.7 511.3 C556.7 512.7 558.4 513.3 560.8 516.3 C563.2 519.3 565.6 524.5 568.0 529.2 C570.4 533.9 572.5 540.6 575.2 544.4 C577.9 548.2 581.1 551.0 584.1 552.1 C587.1 553.2 590.4 552.1 593.1 551.0 C595.8 549.9 597.8 547.6 600.2 545.7 C602.6 543.8 604.7 540.9 607.4 539.6 C610.1 538.3 613.3 537.5 616.3 537.8 C619.3 538.1 622.9 540.9 625.3 541.4 C627.7 541.9 628.5 542.7 630.6 540.8 C632.7 538.9 635.4 533.7 637.8 530.1 C640.2 526.5 642.9 521.6 645.0 519.4 C647.1 517.2 647.6 516.3 650.3 517.0 C653.0 517.7 657.8 522.2 661.1 523.5 C664.4 524.8 667.3 524.2 670.0 524.7 C672.7 525.2 674.2 524.5 677.2 526.5 C680.2 528.5 685.2 533.6 687.9 536.7 C690.6 539.8 691.1 543.0 693.3 545.0 C695.5 547.0 698.6 548.8 701.3 548.5 C704.0 548.2 707.2 544.4 709.4 543.2 C711.6 542.0 712.3 541.5 714.7 541.4 C717.1 541.3 720.7 542.1 723.7 542.6 C726.7 543.1 729.9 544.4 732.6 544.4 C735.3 544.4 737.1 544.6 739.8 542.6 C742.5 540.6 745.8 534.4 748.7 532.4 C751.6 530.4 754.3 530.6 757.2 530.6 C760.1 530.6 762.5 533.1 766.1 532.4 C769.7 531.7 775.3 526.9 778.6 526.5 C781.9 526.1 782.8 527.2 785.8 530.1 C788.8 533.0 793.5 541.1 796.5 543.9 C799.5 546.7 800.7 546.7 803.7 547.1 C806.7 547.5 811.4 546.5 814.4 546.2 C817.4 545.9 819.2 544.7 821.6 545.3 C824.0 545.9 826.0 549.6 828.7 549.8 C831.4 550.0 834.4 549.3 837.7 546.7 C841.0 544.1 844.5 539.1 848.4 534.2 C852.3 529.4 857.7 520.6 861.0 517.6 C864.3 514.6 865.1 516.1 868.1 516.3 C871.1 516.5 874.6 517.3 878.8 518.8 C883.0 520.3 889.3 522.5 893.2 525.3 C897.1 528.1 899.7 533.4 902.1 535.5 C904.5 537.6 904.8 538.2 907.5 537.8 C910.2 537.3 914.9 533.0 918.2 532.8 C921.5 532.6 924.2 535.4 927.2 536.4 C930.2 537.4 932.8 537.9 936.1 538.5 C939.4 539.1 943.2 539.7 946.8 540.0 C950.4 540.3 953.3 539.6 957.6 540.3 C961.9 540.9 970.3 543.3 972.8 543.9" stroke="#ff1a1a" stroke-width="1.15" fill="none"/>
<path d="M3.2 538.2 C4.2 539.3 7.0 543.8 8.9 545.0 C10.8 546.2 12.7 545.2 14.3 545.7 C16.0 546.2 17.5 548.8 18.8 548.0 C20.1 547.2 21.1 542.3 22.4 540.8 C23.7 539.3 25.2 541.6 26.8 539.1 C28.4 536.6 30.4 529.3 32.2 525.6 C34.0 521.9 35.8 519.8 37.6 516.7 C39.4 513.6 41.3 508.5 42.9 506.8 C44.5 505.1 45.9 506.1 47.4 506.8 C48.9 507.6 49.7 510.1 51.9 511.3 C54.1 512.5 57.5 513.5 60.8 514.0 C64.1 514.5 68.3 514.3 71.6 514.0 C74.9 513.7 77.5 513.4 80.5 512.2 C83.5 511.0 86.8 507.3 89.5 506.8 C92.2 506.3 93.6 507.5 96.6 509.2 C99.6 510.9 104.1 515.0 107.4 516.7 C110.7 518.4 113.3 517.2 116.3 519.4 C119.3 521.6 122.6 525.9 125.3 530.1 C128.0 534.3 130.3 541.4 132.4 544.4 C134.5 547.4 135.7 547.5 137.8 548.0 C139.9 548.5 142.3 548.0 145.0 547.1 C147.7 546.2 150.9 544.2 153.9 542.6 C156.9 541.0 158.6 542.2 162.8 537.3 C167.0 532.4 175.7 517.6 179.0 513.1 C182.3 508.6 180.7 510.8 182.5 510.4 C184.3 509.9 186.7 510.7 189.7 510.4 C192.7 510.1 197.4 507.9 200.4 508.6 C203.4 509.4 205.2 513.1 207.6 514.9 C210.0 516.7 212.3 519.2 214.7 519.4 C217.1 519.5 219.5 517.4 221.9 515.8 C224.3 514.1 226.4 511.2 229.1 509.5 C231.8 507.8 234.5 505.8 238.0 505.6 C241.5 505.4 247.4 507.6 250.0 508.1 C252.6 508.6 251.8 506.9 253.6 508.6 C255.4 510.3 258.6 516.3 260.7 518.5 C262.8 520.7 264.5 521.1 266.1 521.7 C267.8 522.3 268.8 520.7 270.6 522.1 C272.4 523.5 274.6 526.2 276.8 530.1 C279.0 534.0 281.9 541.9 284.0 545.3 C286.1 548.7 286.1 550.6 289.4 550.3 C292.7 550.0 299.8 546.6 303.7 543.5 C307.6 540.4 310.2 535.5 312.6 531.9 C315.0 528.3 315.9 522.3 318.0 521.7 C320.1 521.1 322.8 526.7 325.2 528.3 C327.6 529.9 330.4 531.2 332.3 531.4 C334.2 531.6 335.3 529.5 336.8 529.6 C338.3 529.7 339.1 529.1 341.3 531.9 C343.5 534.7 348.1 543.6 350.2 546.2 C352.3 548.8 352.0 547.6 353.8 547.5 C355.6 547.4 358.5 545.2 361.0 545.7 C363.5 546.2 366.6 550.0 369.0 550.3 C371.4 550.6 373.1 551.3 375.3 547.5 C377.5 543.7 380.0 533.2 382.4 527.4 C384.8 521.6 386.9 516.0 389.6 512.7 C392.3 509.4 396.4 508.5 398.5 507.7 C400.6 506.9 400.0 506.4 402.1 507.7 C404.2 509.0 408.1 514.8 411.1 515.8 C414.1 516.8 416.7 512.8 420.0 513.5 C423.3 514.2 428.3 519.1 430.7 520.3 C433.1 521.5 432.8 521.0 434.3 520.6 C435.8 520.2 438.1 518.1 439.7 517.6 C441.3 517.1 442.4 516.3 444.2 517.6 C446.0 518.9 448.5 522.8 450.4 525.6 C452.3 528.4 453.7 531.7 455.8 534.6 C457.9 537.5 460.3 543.1 463.0 543.2 C465.7 543.4 468.9 536.8 471.9 535.5 C474.9 534.2 478.5 536.7 480.9 535.5 C483.3 534.3 483.8 533.8 486.2 528.3 C488.6 522.8 492.9 506.9 495.2 502.7 C497.5 498.5 498.3 503.1 500.0 503.3 C501.7 503.6 503.3 504.1 505.4 504.2 C507.5 504.3 509.5 504.5 512.5 504.2 C515.5 503.9 520.0 502.4 523.3 502.4 C526.6 502.4 529.2 503.2 532.2 504.2 C535.2 505.2 537.9 507.4 541.2 508.6 C544.5 509.8 549.2 510.2 551.9 511.3 C554.6 512.4 555.2 511.6 557.3 514.9 C559.4 518.2 562.0 525.8 564.4 531.0 C566.8 536.2 569.5 542.9 571.6 546.2 C573.7 549.5 574.9 549.8 577.0 551.0 C579.1 552.2 581.7 553.4 584.1 553.4 C586.5 553.4 588.9 552.2 591.3 550.7 C593.7 549.2 596.3 546.6 598.4 544.4 C600.5 542.2 602.0 538.7 603.8 537.3 C605.6 535.9 607.4 535.9 609.2 536.0 C611.0 536.1 612.1 536.5 614.5 537.8 C616.9 539.1 621.4 543.0 623.5 543.9 C625.6 544.8 625.3 545.8 627.1 543.2 C628.9 540.6 631.8 532.9 634.2 528.3 C636.6 523.7 639.3 517.8 641.4 515.8 C643.5 513.8 643.7 514.5 646.7 516.3 C649.7 518.1 655.7 525.4 659.3 526.5 C662.9 527.6 665.8 522.9 668.2 523.0 C670.6 523.1 671.8 526.4 673.6 527.4 C675.4 528.4 677.4 527.2 679.0 529.2 C680.6 531.2 681.9 537.5 683.4 539.6 C684.9 541.7 686.4 540.0 687.9 541.7 C689.4 543.4 690.9 548.4 692.4 549.8 C693.9 551.1 694.7 551.1 696.8 549.8 C698.9 548.4 702.5 543.2 704.9 541.7 C707.3 540.2 709.0 540.5 711.2 540.8 C713.4 541.0 715.9 542.9 718.3 543.2 C720.7 543.5 723.4 542.5 725.5 542.6 C727.6 542.7 729.4 543.4 730.9 543.9 C732.4 544.4 732.9 546.8 734.4 545.7 C735.9 544.6 737.4 540.2 739.8 537.3 C742.2 534.4 745.8 528.8 748.7 528.3 C751.6 527.8 754.3 533.8 757.2 534.2 C760.1 534.7 763.0 532.6 766.1 531.0 C769.2 529.4 773.2 525.0 775.9 524.7 C778.6 524.4 779.7 526.0 782.2 529.2 C784.8 532.4 789.0 540.8 791.2 543.9 C793.4 547.0 793.5 547.4 795.6 548.0 C797.7 548.6 800.6 548.0 803.7 547.5 C806.8 547.0 811.4 545.5 814.4 545.3 C817.4 545.1 819.4 545.1 821.6 546.2 C823.8 547.3 825.4 552.7 827.8 552.1 C830.2 551.5 833.5 545.4 835.9 542.6 C838.3 539.8 840.4 537.0 842.2 535.5 C844.0 534.0 844.4 536.8 846.6 533.7 C848.8 530.6 853.4 520.2 855.6 517.0 C857.9 513.8 858.3 514.3 860.1 514.5 C861.9 514.7 863.8 517.4 866.3 518.1 C868.8 518.8 872.3 517.7 875.3 518.5 C878.3 519.3 881.2 521.6 884.2 522.9 C887.2 524.2 890.8 524.1 893.2 526.5 C895.6 528.9 897.0 535.2 898.5 537.3 C900.0 539.4 900.6 539.2 902.1 539.1 C903.6 539.0 905.7 537.7 907.5 536.4 C909.3 535.1 911.4 532.4 912.9 531.4 C914.4 530.4 914.9 529.9 916.4 530.6 C917.9 531.3 920.0 534.4 921.8 535.5 C923.6 536.6 925.1 536.8 927.2 537.3 C929.3 537.8 932.2 538.1 934.3 538.2 C936.4 538.3 938.1 537.3 939.7 537.8 C941.4 538.3 942.7 541.0 944.2 541.4 C945.7 541.8 947.0 540.3 948.6 540.3 C950.2 540.3 952.4 541.4 954.0 541.4 C955.6 541.4 956.9 540.0 958.5 540.3 C960.1 540.6 961.7 542.6 963.9 543.2 C966.1 543.8 970.6 543.8 971.9 543.9" stroke="#1e3c6e" stroke-width="1.15" fill="none"/>
<rect x="3" y="508" width="139" height="16" fill="#fff" fill-opacity="0.6"/>
<text x="7.5" y="520" fill="#000" font-size="11" font-weight="normal" text-anchor="start" textLength="116.5" lengthAdjust="spacingAndGlyphs" >STOC-S 10; 3; 3 (DAX.I)</text>
<path d="M130.5 513h6l-3 4z" fill="#000"/>
</g>
<g clip-path="url(#cpMAC)">
<path d="M3.0 599.4 L4.0 599.5 L5.0 599.7 L6.0 599.8 L7.0 600.0 L8.0 600.2 L8.0 600.2 L7.0 600.1 L6.0 600.0 L5.0 599.9 L4.0 599.8 L3.0 599.7ZM34.0 602.1 L35.0 601.6 L36.0 601.1 L37.0 600.6 L38.0 600.1 L39.0 599.6 L40.0 599.0 L41.0 598.3 L42.0 597.6 L43.0 597.0 L44.0 596.3 L45.0 595.6 L46.0 594.9 L47.0 594.3 L48.0 593.6 L49.0 592.9 L50.0 592.3 L51.0 591.9 L52.0 591.6 L53.0 591.4 L54.0 591.1 L55.0 590.8 L56.0 590.5 L57.0 590.2 L58.0 590.0 L59.0 589.8 L60.0 589.6 L61.0 589.5 L62.0 589.3 L63.0 589.1 L64.0 589.0 L65.0 588.8 L66.0 588.6 L67.0 588.5 L68.0 588.3 L69.0 588.1 L70.0 588.0 L71.0 587.8 L72.0 587.7 L73.0 587.5 L74.0 587.4 L75.0 587.2 L76.0 586.7 L77.0 586.2 L78.0 585.6 L79.0 585.0 L80.0 584.5 L81.0 583.8 L82.0 583.0 L83.0 582.1 L84.0 581.3 L85.0 580.5 L86.0 579.6 L87.0 579.1 L88.0 578.5 L89.0 578.0 L90.0 577.4 L91.0 576.8 L92.0 576.3 L93.0 575.7 L94.0 575.1 L95.0 574.7 L96.0 574.6 L97.0 574.6 L98.0 574.5 L99.0 574.5 L100.0 574.4 L101.0 574.4 L102.0 574.3 L103.0 574.2 L104.0 574.2 L105.0 574.1 L106.0 574.1 L107.0 574.0 L108.0 574.0 L109.0 574.1 L110.0 574.2 L111.0 574.2 L112.0 574.3 L113.0 574.4 L114.0 574.4 L115.0 574.5 L116.0 574.6 L117.0 574.6 L118.0 574.7 L119.0 575.2 L120.0 575.8 L121.0 576.4 L121.0 576.6 L120.0 576.7 L119.0 576.9 L118.0 577.0 L117.0 577.1 L116.0 577.2 L115.0 577.4 L114.0 577.5 L113.0 577.6 L112.0 577.8 L111.0 577.9 L110.0 578.1 L109.0 578.4 L108.0 578.6 L107.0 578.9 L106.0 579.1 L105.0 579.4 L104.0 579.6 L103.0 579.9 L102.0 580.1 L101.0 580.4 L100.0 580.7 L99.0 581.1 L98.0 581.5 L97.0 581.9 L96.0 582.4 L95.0 582.8 L94.0 583.2 L93.0 583.6 L92.0 584.0 L91.0 584.5 L90.0 584.9 L89.0 585.3 L88.0 585.7 L87.0 586.1 L86.0 586.5 L85.0 586.9 L84.0 587.3 L83.0 587.7 L82.0 588.2 L81.0 588.6 L80.0 589.0 L79.0 589.4 L78.0 589.7 L77.0 589.9 L76.0 590.2 L75.0 590.4 L74.0 590.7 L73.0 590.9 L72.0 591.2 L71.0 591.4 L70.0 591.7 L69.0 591.9 L68.0 592.2 L67.0 592.5 L66.0 592.7 L65.0 593.0 L64.0 593.2 L63.0 593.5 L62.0 593.7 L61.0 594.0 L60.0 594.2 L59.0 594.5 L58.0 594.7 L57.0 595.0 L56.0 595.3 L55.0 595.7 L54.0 596.0 L53.0 596.3 L52.0 596.7 L51.0 597.0 L50.0 597.3 L49.0 597.7 L48.0 598.0 L47.0 598.3 L46.0 598.7 L45.0 599.0 L44.0 599.3 L43.0 599.7 L42.0 600.0 L41.0 600.4 L40.0 600.7 L39.0 601.0 L38.0 601.4 L37.0 601.7 L36.0 602.0 L35.0 602.2 L34.0 602.3ZM193.0 596.1 L194.0 596.0 L195.0 596.0 L196.0 595.9 L197.0 595.8 L198.0 595.7 L199.0 595.7 L200.0 595.6 L201.0 595.6 L202.0 595.5 L203.0 595.5 L204.0 595.4 L205.0 595.4 L206.0 595.3 L207.0 595.3 L208.0 595.2 L209.0 595.2 L210.0 595.1 L211.0 595.1 L212.0 595.0 L213.0 595.0 L214.0 594.9 L215.0 594.9 L216.0 594.7 L217.0 594.5 L218.0 594.4 L219.0 594.2 L220.0 594.0 L221.0 593.9 L222.0 593.7 L223.0 593.5 L224.0 593.4 L225.0 593.2 L226.0 592.8 L227.0 592.3 L228.0 591.8 L229.0 591.3 L230.0 590.8 L231.0 590.3 L232.0 589.8 L233.0 589.4 L234.0 589.1 L235.0 588.7 L236.0 588.4 L237.0 588.1 L238.0 587.8 L239.0 587.5 L240.0 587.2 L241.0 586.9 L242.0 586.7 L243.0 586.4 L244.0 586.2 L245.0 585.9 L246.0 585.7 L247.0 585.4 L248.0 585.2 L249.0 584.9 L250.0 584.7 L251.0 584.6 L252.0 584.5 L253.0 584.4 L254.0 584.3 L255.0 584.2 L256.0 584.3 L257.0 584.4 L258.0 584.6 L259.0 584.7 L260.0 584.8 L261.0 585.0 L262.0 585.1 L263.0 585.2 L264.0 585.4 L265.0 585.5 L266.0 585.6 L267.0 585.7 L268.0 585.9 L269.0 586.0 L270.0 586.1 L271.0 586.2 L272.0 586.3 L273.0 586.5 L273.0 586.6 L272.0 586.7 L271.0 586.7 L270.0 586.7 L269.0 586.8 L268.0 586.8 L267.0 586.9 L266.0 586.9 L265.0 587.0 L264.0 587.0 L263.0 587.1 L262.0 587.1 L261.0 587.2 L260.0 587.3 L259.0 587.5 L258.0 587.7 L257.0 587.8 L256.0 588.0 L255.0 588.2 L254.0 588.3 L253.0 588.5 L252.0 588.7 L251.0 588.8 L250.0 589.0 L249.0 589.3 L248.0 589.5 L247.0 589.8 L246.0 590.1 L245.0 590.3 L244.0 590.6 L243.0 590.9 L242.0 591.1 L241.0 591.4 L240.0 591.7 L239.0 591.9 L238.0 592.2 L237.0 592.4 L236.0 592.6 L235.0 592.8 L234.0 593.0 L233.0 593.2 L232.0 593.4 L231.0 593.6 L230.0 593.8 L229.0 594.1 L228.0 594.3 L227.0 594.4 L226.0 594.5 L225.0 594.6 L224.0 594.7 L223.0 594.7 L222.0 594.8 L221.0 594.9 L220.0 595.0 L219.0 595.1 L218.0 595.1 L217.0 595.2 L216.0 595.3 L215.0 595.4 L214.0 595.4 L213.0 595.5 L212.0 595.5 L211.0 595.6 L210.0 595.6 L209.0 595.7 L208.0 595.7 L207.0 595.8 L206.0 595.8 L205.0 595.9 L204.0 595.9 L203.0 596.0 L202.0 596.0 L201.0 596.1 L200.0 596.1 L199.0 596.2 L198.0 596.2 L197.0 596.3 L196.0 596.3 L195.0 596.2 L194.0 596.2 L193.0 596.2ZM318.0 591.9 L319.0 592.0 L320.0 592.0 L321.0 592.1 L322.0 592.2 L323.0 592.2 L324.0 592.3 L325.0 592.3 L326.0 592.4 L326.0 592.4 L325.0 592.4 L324.0 592.3 L323.0 592.3 L322.0 592.2 L321.0 592.2 L320.0 592.1 L319.0 592.0 L318.0 591.9ZM385.0 596.2 L386.0 595.8 L387.0 595.3 L388.0 594.7 L389.0 594.2 L390.0 593.6 L391.0 593.1 L392.0 592.5 L393.0 592.0 L394.0 591.4 L395.0 590.9 L396.0 590.4 L397.0 589.8 L398.0 589.3 L399.0 588.9 L400.0 588.8 L401.0 588.7 L402.0 588.5 L403.0 588.4 L404.0 588.3 L405.0 588.1 L406.0 588.0 L407.0 587.8 L408.0 587.7 L409.0 587.5 L410.0 587.4 L411.0 587.2 L412.0 587.1 L413.0 586.9 L414.0 586.8 L415.0 586.6 L416.0 586.5 L417.0 586.3 L418.0 586.2 L419.0 586.0 L420.0 585.9 L421.0 585.9 L422.0 586.0 L423.0 586.0 L424.0 586.1 L425.0 586.1 L426.0 586.2 L427.0 586.2 L428.0 586.3 L429.0 586.3 L430.0 586.4 L431.0 586.4 L432.0 586.5 L433.0 586.4 L434.0 586.1 L435.0 585.8 L436.0 585.5 L437.0 585.2 L438.0 584.9 L439.0 584.6 L440.0 584.3 L441.0 584.0 L442.0 583.7 L443.0 583.4 L444.0 583.2 L445.0 583.2 L446.0 583.1 L447.0 583.0 L448.0 582.9 L449.0 583.0 L450.0 583.3 L451.0 583.6 L452.0 583.8 L453.0 584.1 L454.0 584.4 L455.0 584.7 L456.0 585.0 L456.0 585.2 L455.0 585.2 L454.0 585.1 L453.0 585.1 L452.0 585.1 L451.0 585.2 L450.0 585.3 L449.0 585.4 L448.0 585.5 L447.0 585.6 L446.0 585.7 L445.0 585.8 L444.0 585.9 L443.0 586.0 L442.0 586.1 L441.0 586.2 L440.0 586.3 L439.0 586.4 L438.0 586.5 L437.0 586.6 L436.0 586.8 L435.0 586.9 L434.0 587.0 L433.0 587.2 L432.0 587.3 L431.0 587.5 L430.0 587.6 L429.0 587.7 L428.0 587.9 L427.0 588.0 L426.0 588.2 L425.0 588.3 L424.0 588.4 L423.0 588.6 L422.0 588.7 L421.0 588.9 L420.0 589.0 L419.0 589.2 L418.0 589.4 L417.0 589.6 L416.0 589.8 L415.0 590.0 L414.0 590.2 L413.0 590.4 L412.0 590.6 L411.0 590.8 L410.0 591.0 L409.0 591.2 L408.0 591.4 L407.0 591.6 L406.0 591.8 L405.0 592.0 L404.0 592.2 L403.0 592.4 L402.0 592.6 L401.0 592.9 L400.0 593.1 L399.0 593.4 L398.0 593.6 L397.0 593.9 L396.0 594.2 L395.0 594.4 L394.0 594.7 L393.0 594.9 L392.0 595.2 L391.0 595.4 L390.0 595.7 L389.0 595.9 L388.0 596.0 L387.0 596.1 L386.0 596.3 L385.0 596.4ZM482.0 586.4 L483.0 586.0 L484.0 585.7 L485.0 585.3 L486.0 584.9 L487.0 584.6 L488.0 584.2 L489.0 583.3 L490.0 582.4 L491.0 581.5 L492.0 580.6 L493.0 579.7 L494.0 578.8 L495.0 577.9 L496.0 577.0 L497.0 576.1 L498.0 575.2 L499.0 574.3 L500.0 573.4 L501.0 572.9 L502.0 572.5 L503.0 572.0 L504.0 571.6 L505.0 571.1 L506.0 570.6 L507.0 570.2 L508.0 569.7 L509.0 569.3 L510.0 568.9 L511.0 568.5 L512.0 568.1 L513.0 567.7 L514.0 567.3 L515.0 566.9 L516.0 566.5 L517.0 566.1 L518.0 565.7 L519.0 565.3 L520.0 564.9 L521.0 564.5 L522.0 564.1 L523.0 563.7 L524.0 563.6 L525.0 563.6 L526.0 563.6 L527.0 563.6 L528.0 563.6 L529.0 563.6 L530.0 563.6 L531.0 563.6 L532.0 563.6 L533.0 563.6 L534.0 563.6 L535.0 563.6 L536.0 563.6 L537.0 563.7 L538.0 563.9 L539.0 564.0 L540.0 564.1 L541.0 564.2 L542.0 564.3 L543.0 564.4 L544.0 564.6 L545.0 564.7 L546.0 564.8 L547.0 564.9 L548.0 565.0 L549.0 565.1 L550.0 565.3 L551.0 565.4 L552.0 565.5 L553.0 565.6 L554.0 565.8 L555.0 566.2 L556.0 566.5 L556.0 566.7 L555.0 566.5 L554.0 566.4 L553.0 566.2 L552.0 566.0 L551.0 565.9 L550.0 565.7 L549.0 565.8 L548.0 566.0 L547.0 566.1 L546.0 566.2 L545.0 566.4 L544.0 566.5 L543.0 566.7 L542.0 566.8 L541.0 566.9 L540.0 567.1 L539.0 567.2 L538.0 567.3 L537.0 567.5 L536.0 567.6 L535.0 567.7 L534.0 567.9 L533.0 568.0 L532.0 568.2 L531.0 568.5 L530.0 568.8 L529.0 569.2 L528.0 569.5 L527.0 569.8 L526.0 570.2 L525.0 570.5 L524.0 570.9 L523.0 571.2 L522.0 571.5 L521.0 571.9 L520.0 572.2 L519.0 572.5 L518.0 572.9 L517.0 573.3 L516.0 573.8 L515.0 574.3 L514.0 574.8 L513.0 575.3 L512.0 575.7 L511.0 576.2 L510.0 576.7 L509.0 577.2 L508.0 577.7 L507.0 578.1 L506.0 578.6 L505.0 579.1 L504.0 579.6 L503.0 580.1 L502.0 580.5 L501.0 581.0 L500.0 581.5 L499.0 581.8 L498.0 582.1 L497.0 582.4 L496.0 582.6 L495.0 582.9 L494.0 583.2 L493.0 583.5 L492.0 583.8 L491.0 584.1 L490.0 584.4 L489.0 584.7 L488.0 584.9 L487.0 585.2 L486.0 585.5 L485.0 585.8 L484.0 586.1 L483.0 586.4 L482.0 586.5ZM853.0 613.9 L854.0 613.5 L855.0 613.0 L856.0 612.5 L857.0 612.1 L858.0 611.7 L859.0 611.4 L860.0 611.1 L861.0 610.8 L862.0 610.5 L863.0 610.1 L864.0 609.8 L865.0 609.5 L866.0 609.2 L867.0 608.9 L868.0 608.6 L869.0 608.2 L870.0 607.9 L871.0 607.6 L872.0 607.3 L873.0 607.1 L874.0 606.9 L875.0 606.7 L876.0 606.5 L877.0 606.3 L878.0 606.1 L879.0 605.9 L880.0 605.7 L881.0 605.4 L882.0 605.2 L883.0 605.0 L884.0 604.8 L885.0 604.6 L886.0 604.4 L887.0 604.3 L888.0 604.2 L889.0 604.1 L890.0 604.1 L891.0 604.0 L892.0 603.9 L893.0 603.8 L894.0 603.7 L895.0 603.6 L896.0 603.6 L897.0 603.5 L898.0 603.4 L899.0 603.3 L900.0 603.2 L901.0 603.1 L902.0 603.1 L903.0 603.0 L904.0 602.9 L905.0 602.8 L906.0 602.7 L907.0 602.6 L908.0 602.6 L909.0 602.5 L910.0 602.4 L911.0 602.3 L912.0 602.3 L913.0 602.2 L914.0 602.1 L915.0 602.0 L916.0 601.9 L917.0 601.9 L918.0 601.8 L919.0 601.7 L920.0 601.6 L921.0 601.6 L922.0 601.5 L923.0 601.5 L924.0 601.6 L925.0 601.6 L926.0 601.7 L927.0 601.7 L928.0 601.7 L929.0 601.8 L930.0 601.8 L931.0 601.8 L932.0 601.9 L933.0 601.9 L934.0 602.0 L935.0 602.0 L936.0 602.0 L937.0 602.1 L938.0 602.1 L939.0 602.1 L940.0 602.1 L941.0 602.1 L942.0 602.1 L943.0 602.1 L944.0 602.1 L945.0 602.1 L946.0 602.1 L947.0 602.1 L948.0 602.1 L949.0 602.1 L950.0 602.1 L951.0 602.1 L952.0 602.1 L953.0 602.1 L954.0 602.1 L955.0 602.1 L956.0 602.1 L957.0 602.1 L958.0 602.1 L959.0 602.1 L960.0 602.1 L961.0 602.1 L961.0 602.1 L960.0 602.1 L959.0 602.1 L958.0 602.1 L957.0 602.2 L956.0 602.2 L955.0 602.2 L954.0 602.2 L953.0 602.2 L952.0 602.2 L951.0 602.3 L950.0 602.3 L949.0 602.3 L948.0 602.3 L947.0 602.3 L946.0 602.3 L945.0 602.4 L944.0 602.4 L943.0 602.4 L942.0 602.4 L941.0 602.4 L940.0 602.4 L939.0 602.4 L938.0 602.5 L937.0 602.5 L936.0 602.5 L935.0 602.5 L934.0 602.5 L933.0 602.5 L932.0 602.6 L931.0 602.6 L930.0 602.6 L929.0 602.6 L928.0 602.7 L927.0 602.8 L926.0 602.9 L925.0 602.9 L924.0 603.0 L923.0 603.1 L922.0 603.2 L921.0 603.3 L920.0 603.4 L919.0 603.4 L918.0 603.5 L917.0 603.6 L916.0 603.7 L915.0 603.8 L914.0 603.9 L913.0 603.9 L912.0 604.0 L911.0 604.1 L910.0 604.2 L909.0 604.3 L908.0 604.4 L907.0 604.5 L906.0 604.6 L905.0 604.7 L904.0 604.9 L903.0 605.0 L902.0 605.2 L901.0 605.3 L900.0 605.4 L899.0 605.6 L898.0 605.7 L897.0 605.9 L896.0 606.0 L895.0 606.1 L894.0 606.3 L893.0 606.4 L892.0 606.6 L891.0 606.7 L890.0 606.8 L889.0 607.0 L888.0 607.1 L887.0 607.3 L886.0 607.4 L885.0 607.6 L884.0 607.8 L883.0 608.0 L882.0 608.2 L881.0 608.4 L880.0 608.7 L879.0 608.9 L878.0 609.1 L877.0 609.3 L876.0 609.5 L875.0 609.7 L874.0 609.9 L873.0 610.1 L872.0 610.3 L871.0 610.5 L870.0 610.7 L869.0 611.0 L868.0 611.2 L867.0 611.4 L866.0 611.6 L865.0 611.8 L864.0 612.0 L863.0 612.2 L862.0 612.4 L861.0 612.6 L860.0 612.7 L859.0 612.9 L858.0 613.1 L857.0 613.3 L856.0 613.5 L855.0 613.7 L854.0 613.9 L853.0 614.1Z" fill="#c6def4"/>
<path d="M9.0 600.3 L10.0 600.4 L11.0 600.5 L12.0 600.6 L13.0 600.7 L14.0 600.8 L15.0 601.2 L16.0 601.8 L17.0 602.5 L18.0 603.0 L19.0 603.2 L20.0 603.3 L21.0 603.5 L22.0 603.6 L23.0 603.8 L24.0 604.0 L25.0 604.1 L26.0 604.3 L27.0 604.3 L28.0 604.1 L29.0 603.8 L30.0 603.6 L31.0 603.3 L32.0 603.1 L33.0 602.6 L33.0 602.5 L32.0 602.6 L31.0 602.7 L30.0 602.8 L29.0 603.0 L28.0 602.9 L27.0 602.8 L26.0 602.6 L25.0 602.4 L24.0 602.3 L23.0 602.1 L22.0 602.0 L21.0 601.8 L20.0 601.7 L19.0 601.5 L18.0 601.4 L17.0 601.2 L16.0 601.1 L15.0 600.9 L14.0 600.8 L13.0 600.7 L12.0 600.6 L11.0 600.5 L10.0 600.4 L9.0 600.3ZM122.0 577.0 L123.0 577.6 L124.0 578.5 L125.0 579.7 L126.0 580.9 L127.0 582.1 L128.0 583.2 L129.0 584.4 L130.0 585.4 L131.0 586.4 L132.0 587.4 L133.0 588.3 L134.0 589.3 L135.0 590.3 L136.0 591.3 L137.0 591.9 L138.0 592.5 L139.0 593.2 L140.0 593.8 L141.0 594.4 L142.0 595.0 L143.0 595.7 L144.0 596.0 L145.0 596.2 L146.0 596.4 L147.0 596.6 L148.0 596.8 L149.0 597.0 L150.0 597.2 L151.0 597.4 L152.0 597.6 L153.0 597.6 L154.0 597.7 L155.0 597.7 L156.0 597.7 L157.0 597.8 L158.0 597.8 L159.0 597.8 L160.0 597.9 L161.0 597.9 L162.0 597.9 L163.0 597.8 L164.0 597.8 L165.0 597.8 L166.0 597.8 L167.0 597.7 L168.0 597.7 L169.0 597.7 L170.0 597.7 L171.0 597.6 L172.0 597.6 L173.0 597.5 L174.0 597.5 L175.0 597.4 L176.0 597.3 L177.0 597.3 L178.0 597.2 L179.0 597.1 L180.0 597.1 L181.0 597.0 L182.0 597.0 L183.0 596.9 L184.0 596.8 L185.0 596.8 L186.0 596.7 L187.0 596.6 L188.0 596.5 L189.0 596.5 L190.0 596.4 L191.0 596.3 L192.0 596.2 L192.0 596.2 L191.0 596.1 L190.0 596.1 L189.0 596.1 L188.0 596.1 L187.0 596.0 L186.0 596.0 L185.0 596.0 L184.0 595.9 L183.0 595.9 L182.0 595.9 L181.0 595.9 L180.0 595.8 L179.0 595.8 L178.0 595.7 L177.0 595.6 L176.0 595.5 L175.0 595.4 L174.0 595.3 L173.0 595.2 L172.0 595.1 L171.0 595.0 L170.0 594.9 L169.0 594.7 L168.0 594.5 L167.0 594.3 L166.0 594.0 L165.0 593.8 L164.0 593.6 L163.0 593.4 L162.0 593.2 L161.0 593.0 L160.0 592.7 L159.0 592.5 L158.0 592.3 L157.0 592.0 L156.0 591.6 L155.0 591.3 L154.0 590.9 L153.0 590.5 L152.0 590.1 L151.0 589.7 L150.0 589.4 L149.0 589.0 L148.0 588.6 L147.0 588.2 L146.0 587.9 L145.0 587.5 L144.0 587.1 L143.0 586.7 L142.0 586.1 L141.0 585.6 L140.0 585.0 L139.0 584.5 L138.0 583.9 L137.0 583.4 L136.0 582.8 L135.0 582.2 L134.0 581.7 L133.0 581.1 L132.0 580.6 L131.0 580.0 L130.0 579.5 L129.0 578.9 L128.0 578.5 L127.0 578.2 L126.0 577.9 L125.0 577.6 L124.0 577.2 L123.0 576.9 L122.0 576.6ZM274.0 586.7 L275.0 586.9 L276.0 587.1 L277.0 587.4 L278.0 587.6 L279.0 587.8 L280.0 588.1 L281.0 588.3 L282.0 588.6 L283.0 588.8 L284.0 589.2 L285.0 589.5 L286.0 589.8 L287.0 590.1 L288.0 590.4 L289.0 590.7 L290.0 591.0 L291.0 591.3 L292.0 591.6 L293.0 591.9 L294.0 592.0 L295.0 592.1 L296.0 592.2 L297.0 592.4 L298.0 592.5 L299.0 592.6 L300.0 592.7 L301.0 592.8 L302.0 592.9 L303.0 593.0 L304.0 593.1 L305.0 593.0 L306.0 592.9 L307.0 592.8 L308.0 592.7 L309.0 592.7 L310.0 592.6 L311.0 592.5 L312.0 592.4 L313.0 592.3 L314.0 592.2 L315.0 592.2 L316.0 592.1 L317.0 592.0 L317.0 591.8 L316.0 591.8 L315.0 591.7 L314.0 591.6 L313.0 591.5 L312.0 591.4 L311.0 591.4 L310.0 591.3 L309.0 591.2 L308.0 591.1 L307.0 591.1 L306.0 591.0 L305.0 590.9 L304.0 590.8 L303.0 590.7 L302.0 590.5 L301.0 590.3 L300.0 590.2 L299.0 590.0 L298.0 589.8 L297.0 589.6 L296.0 589.5 L295.0 589.3 L294.0 589.1 L293.0 588.9 L292.0 588.8 L291.0 588.6 L290.0 588.4 L289.0 588.2 L288.0 588.1 L287.0 588.0 L286.0 587.9 L285.0 587.7 L284.0 587.6 L283.0 587.5 L282.0 587.4 L281.0 587.2 L280.0 587.1 L279.0 587.0 L278.0 586.9 L277.0 586.7 L276.0 586.6 L275.0 586.5 L274.0 586.6ZM327.0 592.5 L328.0 592.5 L329.0 592.6 L330.0 592.7 L331.0 592.8 L332.0 592.9 L333.0 593.0 L334.0 593.1 L335.0 593.2 L336.0 593.2 L337.0 593.4 L338.0 593.5 L339.0 593.6 L340.0 593.7 L341.0 593.9 L342.0 594.0 L343.0 594.2 L344.0 594.4 L345.0 594.5 L346.0 594.7 L347.0 594.9 L348.0 595.0 L349.0 595.2 L350.0 595.4 L351.0 595.6 L352.0 595.8 L353.0 596.0 L354.0 596.2 L355.0 596.4 L356.0 596.6 L357.0 596.8 L358.0 597.0 L359.0 597.2 L360.0 597.4 L361.0 597.6 L362.0 597.8 L363.0 598.0 L364.0 598.2 L365.0 598.4 L366.0 598.6 L367.0 598.8 L368.0 599.0 L369.0 599.2 L370.0 599.4 L371.0 599.6 L372.0 599.7 L373.0 599.5 L374.0 599.4 L375.0 599.3 L376.0 599.1 L377.0 599.0 L378.0 598.7 L379.0 598.3 L380.0 598.0 L381.0 597.6 L382.0 597.2 L383.0 596.9 L384.0 596.5 L384.0 596.5 L383.0 596.6 L382.0 596.8 L381.0 596.9 L380.0 597.0 L379.0 597.1 L378.0 597.3 L377.0 597.4 L376.0 597.5 L375.0 597.6 L374.0 597.5 L373.0 597.4 L372.0 597.3 L371.0 597.2 L370.0 597.1 L369.0 597.0 L368.0 596.9 L367.0 596.8 L366.0 596.7 L365.0 596.6 L364.0 596.5 L363.0 596.4 L362.0 596.3 L361.0 596.2 L360.0 596.1 L359.0 596.0 L358.0 595.9 L357.0 595.7 L356.0 595.6 L355.0 595.4 L354.0 595.3 L353.0 595.1 L352.0 595.0 L351.0 594.8 L350.0 594.7 L349.0 594.5 L348.0 594.4 L347.0 594.2 L346.0 594.1 L345.0 593.9 L344.0 593.8 L343.0 593.6 L342.0 593.5 L341.0 593.3 L340.0 593.2 L339.0 593.1 L338.0 593.0 L337.0 593.0 L336.0 592.9 L335.0 592.9 L334.0 592.8 L333.0 592.8 L332.0 592.7 L331.0 592.7 L330.0 592.6 L329.0 592.6 L328.0 592.5 L327.0 592.5ZM457.0 585.2 L458.0 585.4 L459.0 585.5 L460.0 585.6 L461.0 585.7 L462.0 585.8 L463.0 585.9 L464.0 586.0 L465.0 586.1 L466.0 586.1 L467.0 586.2 L468.0 586.3 L469.0 586.4 L470.0 586.5 L471.0 586.5 L472.0 586.6 L473.0 586.6 L474.0 586.6 L475.0 586.6 L476.0 586.7 L477.0 586.7 L478.0 586.7 L479.0 586.7 L480.0 586.8 L481.0 586.8 L481.0 586.4 L480.0 586.3 L479.0 586.3 L478.0 586.2 L477.0 586.2 L476.0 586.1 L475.0 586.0 L474.0 586.0 L473.0 585.9 L472.0 585.8 L471.0 585.8 L470.0 585.7 L469.0 585.7 L468.0 585.6 L467.0 585.5 L466.0 585.5 L465.0 585.4 L464.0 585.4 L463.0 585.4 L462.0 585.3 L461.0 585.3 L460.0 585.3 L459.0 585.3 L458.0 585.2 L457.0 585.2ZM557.0 566.9 L558.0 567.3 L559.0 567.6 L560.0 568.0 L561.0 568.4 L562.0 568.7 L563.0 569.1 L564.0 569.4 L565.0 569.8 L566.0 570.2 L567.0 570.5 L568.0 570.9 L569.0 571.3 L570.0 571.6 L571.0 572.0 L572.0 572.3 L573.0 572.7 L574.0 573.1 L575.0 573.5 L576.0 573.8 L577.0 574.2 L578.0 574.6 L579.0 574.9 L580.0 575.3 L581.0 575.7 L582.0 576.0 L583.0 576.4 L584.0 576.8 L585.0 577.1 L586.0 577.5 L587.0 577.9 L588.0 578.2 L589.0 578.6 L590.0 578.9 L591.0 579.1 L592.0 579.4 L593.0 579.6 L594.0 579.8 L595.0 580.1 L596.0 580.3 L597.0 580.5 L598.0 580.7 L599.0 581.0 L600.0 581.2 L601.0 581.4 L602.0 581.7 L603.0 581.9 L604.0 582.1 L605.0 582.4 L606.0 582.6 L607.0 582.8 L608.0 583.1 L609.0 583.3 L610.0 583.6 L611.0 583.9 L612.0 584.1 L613.0 584.4 L614.0 584.7 L615.0 584.9 L616.0 585.2 L617.0 585.5 L618.0 585.7 L619.0 586.0 L620.0 586.3 L621.0 586.5 L622.0 586.8 L623.0 587.1 L624.0 587.4 L625.0 587.6 L626.0 587.7 L627.0 587.8 L628.0 587.9 L629.0 587.9 L630.0 588.0 L631.0 588.1 L632.0 588.2 L633.0 588.2 L634.0 588.3 L635.0 588.4 L636.0 588.4 L637.0 588.5 L638.0 588.6 L639.0 588.6 L640.0 588.7 L641.0 588.8 L642.0 588.8 L643.0 588.9 L644.0 589.0 L645.0 589.0 L646.0 589.1 L647.0 589.2 L648.0 589.2 L649.0 589.3 L650.0 589.4 L651.0 589.4 L652.0 589.5 L653.0 589.6 L654.0 589.7 L655.0 589.8 L656.0 589.9 L657.0 590.0 L658.0 590.1 L659.0 590.2 L660.0 590.3 L661.0 590.4 L662.0 590.5 L663.0 590.6 L664.0 590.7 L665.0 590.8 L666.0 590.9 L667.0 591.0 L668.0 591.1 L669.0 591.2 L670.0 591.3 L671.0 591.4 L672.0 591.5 L673.0 591.6 L674.0 591.7 L675.0 591.8 L676.0 591.9 L677.0 592.0 L678.0 592.1 L679.0 592.2 L680.0 592.4 L681.0 592.6 L682.0 592.8 L683.0 593.0 L684.0 593.2 L685.0 593.4 L686.0 593.6 L687.0 593.8 L688.0 594.0 L689.0 594.2 L690.0 594.4 L691.0 594.6 L692.0 594.8 L693.0 595.0 L694.0 595.2 L695.0 595.4 L696.0 595.6 L697.0 595.8 L698.0 595.9 L699.0 596.0 L700.0 596.2 L701.0 596.3 L702.0 596.4 L703.0 596.5 L704.0 596.6 L705.0 596.8 L706.0 596.9 L707.0 597.0 L708.0 597.1 L709.0 597.2 L710.0 597.3 L711.0 597.5 L712.0 597.6 L713.0 597.7 L714.0 597.8 L715.0 597.9 L716.0 598.0 L717.0 598.1 L718.0 598.2 L719.0 598.3 L720.0 598.4 L721.0 598.5 L722.0 598.6 L723.0 598.7 L724.0 598.8 L725.0 598.9 L726.0 599.0 L727.0 599.1 L728.0 599.2 L729.0 599.3 L730.0 599.4 L731.0 599.5 L732.0 599.6 L733.0 599.7 L734.0 599.8 L735.0 599.9 L736.0 600.1 L737.0 600.2 L738.0 600.3 L739.0 600.4 L740.0 600.5 L741.0 600.6 L742.0 600.7 L743.0 600.8 L744.0 600.9 L745.0 601.0 L746.0 601.1 L747.0 601.2 L748.0 601.3 L749.0 601.4 L750.0 601.5 L751.0 601.6 L752.0 601.7 L753.0 601.9 L754.0 602.0 L755.0 602.1 L756.0 602.2 L757.0 602.4 L758.0 602.5 L759.0 602.6 L760.0 602.5 L761.0 602.3 L762.0 602.2 L763.0 602.1 L764.0 602.0 L765.0 601.9 L766.0 601.7 L767.0 601.6 L768.0 601.5 L769.0 601.5 L770.0 601.6 L771.0 601.6 L772.0 601.6 L773.0 601.6 L774.0 601.7 L775.0 601.7 L776.0 601.7 L777.0 601.8 L778.0 601.8 L779.0 601.8 L780.0 601.8 L781.0 601.9 L782.0 601.9 L783.0 601.9 L784.0 601.9 L785.0 602.0 L786.0 602.0 L787.0 602.0 L788.0 602.1 L789.0 602.1 L790.0 602.3 L791.0 602.7 L792.0 603.1 L793.0 603.5 L794.0 603.9 L795.0 604.2 L796.0 604.6 L797.0 605.0 L798.0 605.4 L799.0 605.8 L800.0 606.2 L801.0 606.7 L802.0 607.2 L803.0 607.7 L804.0 608.3 L805.0 608.8 L806.0 609.3 L807.0 609.9 L808.0 610.4 L809.0 610.9 L810.0 611.2 L811.0 611.4 L812.0 611.6 L813.0 611.8 L814.0 612.0 L815.0 612.2 L816.0 612.4 L817.0 612.6 L818.0 612.8 L819.0 613.4 L820.0 613.9 L821.0 614.5 L822.0 615.0 L823.0 615.6 L824.0 616.1 L825.0 616.7 L826.0 617.2 L827.0 617.8 L828.0 618.2 L829.0 618.1 L830.0 618.0 L831.0 617.9 L832.0 617.8 L833.0 617.7 L834.0 617.6 L835.0 617.5 L836.0 617.5 L837.0 617.4 L838.0 617.3 L839.0 617.2 L840.0 617.2 L841.0 617.2 L842.0 617.1 L843.0 617.1 L844.0 617.0 L845.0 617.0 L846.0 616.9 L847.0 616.7 L848.0 616.3 L849.0 615.8 L850.0 615.3 L851.0 614.9 L852.0 614.4 L852.0 614.3 L851.0 614.4 L850.0 614.6 L849.0 614.5 L848.0 614.5 L847.0 614.4 L846.0 614.4 L845.0 614.3 L844.0 614.3 L843.0 614.2 L842.0 614.1 L841.0 614.1 L840.0 614.0 L839.0 613.9 L838.0 613.7 L837.0 613.5 L836.0 613.3 L835.0 613.1 L834.0 612.9 L833.0 612.7 L832.0 612.5 L831.0 612.3 L830.0 612.2 L829.0 612.0 L828.0 611.7 L827.0 611.3 L826.0 611.0 L825.0 610.7 L824.0 610.3 L823.0 610.0 L822.0 609.6 L821.0 609.3 L820.0 609.0 L819.0 608.6 L818.0 608.3 L817.0 608.0 L816.0 607.8 L815.0 607.5 L814.0 607.3 L813.0 607.0 L812.0 606.8 L811.0 606.5 L810.0 606.3 L809.0 606.0 L808.0 605.8 L807.0 605.5 L806.0 605.3 L805.0 605.0 L804.0 604.8 L803.0 604.5 L802.0 604.3 L801.0 604.0 L800.0 603.8 L799.0 603.5 L798.0 603.2 L797.0 603.0 L796.0 602.7 L795.0 602.5 L794.0 602.2 L793.0 602.0 L792.0 601.7 L791.0 601.5 L790.0 601.5 L789.0 601.4 L788.0 601.4 L787.0 601.4 L786.0 601.3 L785.0 601.3 L784.0 601.3 L783.0 601.3 L782.0 601.2 L781.0 601.2 L780.0 601.2 L779.0 601.1 L778.0 601.1 L777.0 601.1 L776.0 601.0 L775.0 601.0 L774.0 601.0 L773.0 601.0 L772.0 600.9 L771.0 600.9 L770.0 600.9 L769.0 600.8 L768.0 600.8 L767.0 600.7 L766.0 600.7 L765.0 600.6 L764.0 600.5 L763.0 600.4 L762.0 600.3 L761.0 600.3 L760.0 600.2 L759.0 600.1 L758.0 600.0 L757.0 599.9 L756.0 599.9 L755.0 599.8 L754.0 599.7 L753.0 599.6 L752.0 599.6 L751.0 599.5 L750.0 599.4 L749.0 599.3 L748.0 599.2 L747.0 599.1 L746.0 599.0 L745.0 598.9 L744.0 598.8 L743.0 598.7 L742.0 598.6 L741.0 598.5 L740.0 598.4 L739.0 598.3 L738.0 598.2 L737.0 598.1 L736.0 598.0 L735.0 597.8 L734.0 597.7 L733.0 597.6 L732.0 597.5 L731.0 597.4 L730.0 597.3 L729.0 597.2 L728.0 597.1 L727.0 597.0 L726.0 596.9 L725.0 596.8 L724.0 596.7 L723.0 596.6 L722.0 596.5 L721.0 596.4 L720.0 596.3 L719.0 596.2 L718.0 596.1 L717.0 596.0 L716.0 595.9 L715.0 595.8 L714.0 595.7 L713.0 595.6 L712.0 595.5 L711.0 595.3 L710.0 595.2 L709.0 595.1 L708.0 595.0 L707.0 594.8 L706.0 594.7 L705.0 594.6 L704.0 594.5 L703.0 594.4 L702.0 594.2 L701.0 594.1 L700.0 594.0 L699.0 593.9 L698.0 593.7 L697.0 593.6 L696.0 593.4 L695.0 593.3 L694.0 593.1 L693.0 592.9 L692.0 592.7 L691.0 592.5 L690.0 592.4 L689.0 592.2 L688.0 592.0 L687.0 591.8 L686.0 591.7 L685.0 591.5 L684.0 591.3 L683.0 591.1 L682.0 590.9 L681.0 590.8 L680.0 590.6 L679.0 590.4 L678.0 590.3 L677.0 590.2 L676.0 590.1 L675.0 590.0 L674.0 589.9 L673.0 589.8 L672.0 589.7 L671.0 589.6 L670.0 589.5 L669.0 589.4 L668.0 589.3 L667.0 589.2 L666.0 589.1 L665.0 589.0 L664.0 588.9 L663.0 588.8 L662.0 588.7 L661.0 588.6 L660.0 588.5 L659.0 588.4 L658.0 588.3 L657.0 588.2 L656.0 588.1 L655.0 588.0 L654.0 587.9 L653.0 587.8 L652.0 587.7 L651.0 587.6 L650.0 587.4 L649.0 587.3 L648.0 587.2 L647.0 587.0 L646.0 586.9 L645.0 586.8 L644.0 586.7 L643.0 586.5 L642.0 586.4 L641.0 586.3 L640.0 586.1 L639.0 586.0 L638.0 585.9 L637.0 585.8 L636.0 585.6 L635.0 585.5 L634.0 585.4 L633.0 585.2 L632.0 585.1 L631.0 585.0 L630.0 584.9 L629.0 584.7 L628.0 584.5 L627.0 584.2 L626.0 584.0 L625.0 583.7 L624.0 583.5 L623.0 583.2 L622.0 583.0 L621.0 582.7 L620.0 582.5 L619.0 582.2 L618.0 582.0 L617.0 581.7 L616.0 581.5 L615.0 581.2 L614.0 581.0 L613.0 580.7 L612.0 580.5 L611.0 580.2 L610.0 580.0 L609.0 579.7 L608.0 579.5 L607.0 579.2 L606.0 578.9 L605.0 578.6 L604.0 578.4 L603.0 578.1 L602.0 577.8 L601.0 577.5 L600.0 577.2 L599.0 577.0 L598.0 576.7 L597.0 576.4 L596.0 576.1 L595.0 575.8 L594.0 575.6 L593.0 575.3 L592.0 575.0 L591.0 574.7 L590.0 574.4 L589.0 574.2 L588.0 573.9 L587.0 573.6 L586.0 573.3 L585.0 573.0 L584.0 572.8 L583.0 572.5 L582.0 572.2 L581.0 571.9 L580.0 571.6 L579.0 571.4 L578.0 571.1 L577.0 570.8 L576.0 570.5 L575.0 570.2 L574.0 570.0 L573.0 569.7 L572.0 569.4 L571.0 569.2 L570.0 569.0 L569.0 568.9 L568.0 568.7 L567.0 568.5 L566.0 568.4 L565.0 568.2 L564.0 568.0 L563.0 567.9 L562.0 567.7 L561.0 567.5 L560.0 567.4 L559.0 567.2 L558.0 567.0 L557.0 566.9ZM962.0 602.2 L963.0 602.3 L964.0 602.4 L965.0 602.5 L966.0 602.6 L967.0 602.8 L968.0 602.9 L969.0 603.0 L970.0 603.1 L971.0 603.2 L972.0 603.3 L972.0 602.6 L971.0 602.6 L970.0 602.5 L969.0 602.5 L968.0 602.4 L967.0 602.4 L966.0 602.3 L965.0 602.3 L964.0 602.2 L963.0 602.2 L962.0 602.1Z" fill="#f8d8c8"/>
<path d="M4 594.0h2v1.0h-2zM9 595h2v1.0h-2zM13 595h2v1.0h-2zM18 595h2v2.0h-2zM23 595h2v2.0h-2zM27 595h2v1.3h-2zM32 595h2v1.0h-2zM37 593.5h2v1.5h-2zM41 592.0h2v3.0h-2zM46 590.1h2v4.9h-2zM51 589.0h2v6.0h-2zM55 589.2h2v5.8h-2zM60 589.6h2v5.4h-2zM65 590.1h2v4.9h-2zM70 590.6h2v4.4h-2zM74 591.1h2v3.9h-2zM78 589.7h2v5.3h-2zM84 587.4h2v7.6h-2zM88 586.3h2v8.7h-2zM92 585.4h2v9.6h-2zM97 586.8h2v8.2h-2zM101 588.1h2v6.9h-2zM106 589.2h2v5.8h-2zM112 591.0h2v4.0h-2zM115 591.9h2v3.1h-2zM120 595h2v1.0h-2zM125 595h2v3.4h-2zM129 595h2v7.2h-2zM135 595h2v10.0h-2zM139 595h2v10.6h-2zM144 595h2v10.5h-2zM148 595h2v9.5h-2zM153 595h2v8.0h-2zM158 595h2v6.5h-2zM162 595h2v5.2h-2zM167 595h2v3.9h-2zM171 595h2v2.9h-2zM177 595h2v1.9h-2zM181 595h2v1.2h-2zM186 595h2v1.0h-2zM190 595h2v1.0h-2zM195 594.0h2v1.0h-2zM199 594.0h2v1.0h-2zM204 594.0h2v1.0h-2zM209 594.0h2v1.0h-2zM215 594.0h2v1.0h-2zM219 593.9h2v1.1h-2zM223 593.4h2v1.6h-2zM228 591.6h2v3.4h-2zM233 590.3h2v4.7h-2zM238 589.7h2v5.3h-2zM243 589.7h2v5.3h-2zM246 589.8h2v5.2h-2zM251 590.1h2v4.9h-2zM257 591.1h2v3.9h-2zM261 592.4h2v2.6h-2zM265 593.5h2v1.5h-2zM270 594.0h2v1.0h-2zM274 595h2v1.0h-2zM280 595h2v1.2h-2zM284 595h2v2.1h-2zM289 595h2v3.1h-2zM293 595h2v3.5h-2zM298 595h2v3.1h-2zM303 595h2v2.8h-2zM307 595h2v1.9h-2zM312 595h2v1.0h-2zM316 595h2v1.0h-2zM321 594.0h2v1.0h-2zM326 595h2v1.0h-2zM331 595h2v1.0h-2zM335 595h2v1.0h-2zM340 595h2v1.0h-2zM345 595h2v1.0h-2zM349 595h2v1.0h-2zM354 595h2v1.1h-2zM358 595h2v1.5h-2zM363 595h2v2.1h-2zM368 595h2v2.7h-2zM373 595h2v2.2h-2zM377 595h2v1.6h-2zM382 595h2v1.0h-2zM387 593.3h2v1.7h-2zM391 591.7h2v3.3h-2zM397 589.9h2v5.1h-2zM401 590.2h2v4.8h-2zM406 590.5h2v4.5h-2zM410 590.7h2v4.3h-2zM415 591.1h2v3.9h-2zM419 591.4h2v3.6h-2zM424 592.5h2v2.5h-2zM429 593.6h2v1.4h-2zM433 593.7h2v1.3h-2zM438 592.7h2v2.3h-2zM443 591.8h2v3.2h-2zM448 592.0h2v3.0h-2zM453 594.0h2v1.0h-2zM457 595h2v1.0h-2zM461 595h2v1.0h-2zM467 595h2v1.0h-2zM471 595h2v1.0h-2zM475 595h2v1.0h-2zM480 595h2v1.0h-2zM485 594.0h2v1.0h-2zM489 592.4h2v2.6h-2zM494 588.8h2v6.2h-2zM499 585.3h2v9.7h-2zM503 585.4h2v9.6h-2zM509 585.6h2v9.4h-2zM514 586.1h2v8.9h-2zM517 586.4h2v8.6h-2zM522 586.0h2v9.0h-2zM527 588.1h2v6.9h-2zM533 589.8h2v5.2h-2zM537 590.8h2v4.2h-2zM542 592.3h2v2.7h-2zM546 593.7h2v1.3h-2zM551 594.0h2v1.0h-2zM556 594.0h2v1.0h-2zM561 595h2v1.1h-2zM564 595h2v2.0h-2zM569 595h2v3.2h-2zM574 595h2v3.9h-2zM579 595h2v4.3h-2zM583 595h2v4.9h-2zM588 595h2v5.4h-2zM593 595h2v5.2h-2zM597 595h2v4.9h-2zM602 595h2v4.6h-2zM607 595h2v4.3h-2zM612 595h2v4.4h-2zM616 595h2v4.5h-2zM621 595h2v4.6h-2zM626 595h2v4.4h-2zM630 595h2v3.7h-2zM635 595h2v3.4h-2zM640 595h2v3.0h-2zM645 595h2v2.6h-2zM649 595h2v2.4h-2zM653 595h2v2.2h-2zM658 595h2v2.2h-2zM663 595h2v2.2h-2zM667 595h2v2.2h-2zM672 595h2v2.2h-2zM676 595h2v2.2h-2zM681 595h2v2.3h-2zM686 595h2v2.4h-2zM691 595h2v2.5h-2zM695 595h2v2.6h-2zM700 595h2v2.6h-2zM706 595h2v2.6h-2zM710 595h2v2.5h-2zM714 595h2v2.5h-2zM719 595h2v2.5h-2zM723 595h2v2.5h-2zM728 595h2v2.5h-2zM734 595h2v2.5h-2zM737 595h2v2.5h-2zM742 595h2v2.5h-2zM747 595h2v2.5h-2zM751 595h2v2.7h-2zM756 595h2v2.9h-2zM761 595h2v2.2h-2zM766 595h2v1.2h-2zM771 595h2v1.0h-2zM775 595h2v1.0h-2zM779 595h2v1.0h-2zM784 595h2v1.0h-2zM789 595h2v1.2h-2zM793 595h2v2.0h-2zM798 595h2v2.8h-2zM803 595h2v4.3h-2zM808 595h2v5.8h-2zM812 595h2v5.7h-2zM817 595h2v5.5h-2zM821 595h2v6.6h-2zM827 595h2v7.8h-2zM831 595h2v6.2h-2zM835 595h2v4.8h-2zM840 595h2v3.6h-2zM845 595h2v3.0h-2zM850 595h2v1.0h-2zM854 594.0h2v1.0h-2zM859 592.9h2v2.1h-2zM864 592.2h2v2.8h-2zM869 591.7h2v3.3h-2zM873 591.4h2v3.6h-2zM878 591.4h2v3.6h-2zM883 591.4h2v3.6h-2zM887 591.5h2v3.5h-2zM892 591.9h2v3.1h-2zM896 592.2h2v2.8h-2zM901 592.5h2v2.5h-2zM906 592.8h2v2.2h-2zM910 592.9h2v2.1h-2zM915 592.9h2v2.1h-2zM920 593.0h2v2.0h-2zM924 593.5h2v1.5h-2zM929 594.0h2v1.0h-2zM934 594.0h2v1.0h-2zM939 594.0h2v1.0h-2zM943 594.0h2v1.0h-2zM948 594.0h2v1.0h-2zM952 594.0h2v1.0h-2zM957 594.0h2v1.0h-2zM962 595h2v1.0h-2zM967 595h2v1.0h-2zM972 595h2v1.0h-2z" fill="#000"/>
<path d="M3.2 599.7 C5.1 599.9 10.1 600.2 14.3 600.8 C18.5 601.3 25.0 602.8 28.6 603.0 C32.2 603.2 32.8 602.9 35.8 602.1 C38.8 601.4 42.9 599.7 46.5 598.5 C50.1 597.3 53.7 595.9 57.3 594.9 C60.9 593.9 64.4 593.1 68.0 592.2 C71.6 591.3 75.1 590.7 78.7 589.5 C82.3 588.3 85.9 586.6 89.5 585.1 C93.1 583.6 96.6 581.8 100.2 580.6 C103.8 579.4 107.4 578.6 111.0 577.9 C114.6 577.2 118.7 576.4 121.7 576.5 C124.7 576.6 125.2 577.1 128.8 578.8 C132.4 580.5 138.4 584.6 143.2 586.8 C148.0 589.0 153.0 590.9 157.5 592.2 C162.0 593.6 166.4 594.3 170.0 594.9 C173.6 595.5 174.5 595.6 179.0 595.8 C183.5 596.0 191.0 596.4 196.9 596.3 C202.8 596.2 209.6 595.7 214.7 595.4 C219.8 595.1 223.4 594.9 227.3 594.4 C231.2 593.9 234.2 593.1 238.0 592.2 C241.8 591.3 246.2 589.8 250.0 589.0 C253.8 588.2 256.5 587.6 260.7 587.2 C264.9 586.8 270.3 586.3 275.1 586.5 C279.9 586.7 284.6 587.6 289.4 588.3 C294.2 589.0 298.3 590.1 303.7 590.8 C309.1 591.4 315.6 591.8 321.6 592.2 C327.6 592.6 333.5 592.5 339.5 593.1 C345.5 593.7 351.4 595.0 357.4 595.8 C363.4 596.5 369.9 597.6 375.3 597.6 C380.7 597.6 385.1 596.6 389.6 595.8 C394.1 595.0 397.0 593.7 402.1 592.6 C407.2 591.5 414.0 590.0 420.0 589.0 C426.0 588.0 432.5 587.1 437.9 586.5 C443.3 585.9 447.7 585.3 452.2 585.1 C456.7 584.9 459.7 585.2 464.8 585.4 C469.9 585.6 476.7 587.1 482.6 586.5 C488.5 585.9 494.1 583.8 500.0 581.5 C505.9 579.2 512.5 575.1 517.9 572.9 C523.3 570.7 526.8 569.3 532.2 568.1 C537.6 566.9 543.5 565.5 550.1 565.7 C556.7 565.9 565.0 567.9 571.6 569.3 C578.2 570.7 583.5 572.6 589.5 574.3 C595.5 576.0 600.9 577.6 607.4 579.3 C613.9 581.0 621.3 583.3 628.8 584.7 C636.2 586.1 643.7 586.8 652.1 587.7 C660.5 588.7 671.5 589.4 679.0 590.4 C686.5 591.4 690.9 592.7 696.9 593.6 C702.9 594.5 708.8 595.1 714.7 595.8 C720.7 596.5 726.7 597.0 732.6 597.6 C738.5 598.2 744.1 598.9 750.0 599.4 C755.9 599.9 761.0 600.4 767.9 600.8 C774.8 601.1 785.2 600.9 791.2 601.5 C797.2 602.1 799.2 603.6 803.7 604.7 C808.2 605.8 813.8 607.1 818.0 608.3 C822.2 609.5 825.1 610.9 828.7 611.9 C832.3 612.9 835.9 613.5 839.5 614.0 C843.1 614.5 846.0 615.0 850.2 614.6 C854.4 614.2 858.5 613.1 864.5 611.9 C870.5 610.7 878.8 608.6 886.0 607.4 C893.2 606.1 900.3 605.2 907.5 604.4 C914.7 603.6 920.0 603.0 929.0 602.6 C938.0 602.2 954.1 602.1 961.2 602.1 C968.4 602.1 970.1 602.5 971.9 602.6" stroke="#f06a30" stroke-width="1.2" fill="none"/>
<path d="M3.2 599.4 C4.2 599.5 7.0 600.1 8.9 600.3 C10.8 600.5 12.8 600.3 14.3 600.8 C15.8 601.2 15.8 602.4 17.9 603.0 C20.0 603.6 24.4 604.4 26.8 604.4 C29.2 604.4 30.1 603.8 32.2 603.0 C34.3 602.2 37.3 600.6 39.4 599.4 C41.5 598.2 42.9 597.0 44.7 595.8 C46.5 594.6 48.0 593.2 50.1 592.2 C52.2 591.2 54.3 590.8 57.3 590.1 C60.3 589.5 65.0 588.8 68.0 588.3 C71.0 587.8 73.1 587.9 75.2 587.2 C77.3 586.5 78.7 585.5 80.5 584.2 C82.3 583.0 83.5 581.3 85.9 579.7 C88.3 578.1 91.2 575.7 94.8 574.7 C98.4 573.8 103.5 574.0 107.4 574.0 C111.3 574.0 115.4 574.1 118.1 574.7 C120.8 575.4 121.7 576.3 123.5 577.9 C125.3 579.5 126.7 582.0 128.8 584.2 C130.9 586.4 133.6 589.4 136.0 591.3 C138.4 593.2 140.5 594.8 143.2 595.8 C145.9 596.8 149.1 597.2 152.1 597.6 C155.1 598.0 157.8 597.9 161.1 597.9 C164.4 597.9 167.6 597.8 171.8 597.6 C176.0 597.4 181.9 597.0 186.1 596.7 C190.3 596.4 192.1 596.1 196.9 595.8 C201.7 595.5 209.9 595.3 214.7 594.9 C219.5 594.5 222.5 594.0 225.5 593.1 C228.5 592.2 230.2 590.5 232.6 589.5 C235.0 588.5 236.9 588.0 239.8 587.2 C242.7 586.4 247.4 585.2 250.0 584.7 C252.6 584.2 253.0 584.1 255.4 584.2 C257.8 584.3 261.3 585.0 264.3 585.4 C267.3 585.8 270.3 586.0 273.3 586.5 C276.3 587.0 278.9 587.7 282.2 588.6 C285.5 589.5 289.3 591.1 292.9 591.9 C296.5 592.6 299.5 593.1 303.7 593.1 C307.9 593.1 313.5 592.0 318.0 591.9 C322.5 591.8 326.9 592.4 330.5 592.7 C334.1 593.0 336.2 593.2 339.5 593.6 C342.8 594.0 346.6 594.7 350.2 595.4 C353.8 596.1 357.4 596.9 361.0 597.6 C364.6 598.3 369.0 599.5 371.7 599.7 C374.4 599.9 374.7 599.6 377.1 599.0 C379.5 598.4 382.4 597.5 386.0 595.8 C389.6 594.1 395.5 590.2 398.5 589.0 C401.5 587.8 400.3 588.8 403.9 588.3 C407.5 587.8 415.2 586.2 420.0 585.9 C424.8 585.6 428.6 586.9 432.5 586.5 C436.4 586.1 440.6 583.9 443.3 583.3 C446.0 582.7 446.2 582.5 448.6 582.9 C451.0 583.2 454.0 584.8 457.6 585.4 C461.2 586.0 466.2 586.3 470.1 586.5 C474.0 586.7 477.9 587.2 480.9 586.8 C483.9 586.4 484.8 586.4 488.0 584.2 C491.2 582.0 496.5 575.9 500.0 573.4 C503.5 570.9 505.0 570.9 508.9 569.3 C512.8 567.7 518.8 564.5 523.3 563.6 C527.8 562.7 530.7 563.2 535.8 563.6 C540.9 564.0 547.7 564.3 553.7 565.7 C559.7 567.1 565.6 570.0 571.6 572.2 C577.6 574.4 583.5 577.0 589.5 578.8 C595.5 580.6 601.4 581.4 607.4 582.9 C613.4 584.4 617.8 586.6 625.3 587.7 C632.8 588.8 643.1 588.8 652.1 589.5 C661.1 590.2 671.5 591.2 679.0 592.2 C686.5 593.2 690.9 594.8 696.9 595.8 C702.9 596.8 708.8 597.2 714.7 597.9 C720.7 598.5 726.7 599.1 732.6 599.7 C738.5 600.3 745.6 601.0 750.0 601.5 C754.4 602.0 755.9 602.6 758.9 602.6 C761.9 602.6 762.8 601.6 767.9 601.5 C773.0 601.4 784.0 601.3 789.4 602.1 C794.8 602.9 796.8 604.7 800.1 606.2 C803.4 607.7 806.1 609.9 809.1 611.0 C812.1 612.1 814.9 611.6 818.0 612.8 C821.1 614.0 824.5 617.5 827.8 618.2 C831.1 619.0 834.6 617.5 837.7 617.3 C840.8 617.1 843.3 617.8 846.6 616.9 C849.9 616.0 853.2 613.5 857.4 611.9 C861.6 610.3 866.9 608.6 871.7 607.4 C876.5 606.1 880.0 605.2 886.0 604.4 C892.0 603.6 901.5 603.1 907.5 602.6 C913.5 602.1 916.7 601.6 921.8 601.5 C926.9 601.4 931.3 602.0 937.9 602.1 C944.5 602.2 955.5 601.9 961.2 602.1 C966.9 602.3 970.1 603.1 971.9 603.3" stroke="#3a90d8" stroke-width="1.2" fill="none"/>
<rect x="3" y="571" width="134" height="16" fill="#fff" fill-opacity="0.6"/>
<text x="7.5" y="582.5" fill="#000" font-size="11" font-weight="normal" text-anchor="start" textLength="115" lengthAdjust="spacingAndGlyphs" >MACD 26; 12; 9 (DAX.I)</text>
<path d="M128 576h6l-3 4z" fill="#000"/>
</g>
<text x="0.5" y="619" fill="#9a9288" font-size="10" font-weight="normal" text-anchor="start" textLength="77.5" lengthAdjust="spacingAndGlyphs" >Fuso horário: TMG</text>
<rect x="1309.5" y="448.5" width="8" height="8" fill="#f4f6fa" fill-opacity="0.9" stroke="#c0c8d8" stroke-width="1"/><rect x="1311.5" y="451.5" width="4" height="3" fill="none" stroke="#c0c8d8" stroke-width="1"/>
<path d="M1325 449l8 8M1333 449l-8 8" stroke="#c8d0dc" stroke-width="1.6"/>
<rect x="1309.5" y="511.5" width="8" height="8" fill="#f4f6fa" fill-opacity="0.9" stroke="#c0c8d8" stroke-width="1"/><rect x="1311.5" y="514.5" width="4" height="3" fill="none" stroke="#c0c8d8" stroke-width="1"/>
<path d="M1325 512l8 8M1333 512l-8 8" stroke="#c8d0dc" stroke-width="1.6"/>
<rect x="1309.5" y="574.5" width="8" height="8" fill="#f4f6fa" fill-opacity="0.9" stroke="#c0c8d8" stroke-width="1"/><rect x="1311.5" y="577.5" width="4" height="3" fill="none" stroke="#c0c8d8" stroke-width="1"/>
<path d="M1325 575l8 8M1333 575l-8 8" stroke="#c8d0dc" stroke-width="1.6"/>
<path d="M0 432.5H1397M0 434.5H1397M0 495.5H1397M0 497.5H1397M0 558.5H1397M0 560.5H1397" stroke="#000" stroke-width="1" shape-rendering="crispEdges"/>
<path d="M0 433.5H1397M0 496.5H1397M0 559.5H1397" stroke="#c8c8c8" stroke-width="1" shape-rendering="crispEdges"/>
<rect x="0" y="622" width="1339" height="14" fill="#fff"/>
<path d="M0 621.5H1339M0 636.5H1339M13.5 622V636M70.5 622V636M126.5 622V636M182.5 622V636M238.5 622V636M294.5 622V636M350.5 622V636M406.5 622V636M462.5 622V636M518.5 622V636M575.5 622V636M631.5 622V636M687.5 622V636M738.5 622V636M794.5 622V636M850.5 622V636M907.5 622V636M963.5 622V636M1019.5 622V636M1075.5 622V636M1131.5 622V636M1187.5 622V636M1243.5 622V636M1299.5 622V636M738.5 636V650" stroke="#000" stroke-width="1" shape-rendering="crispEdges"/>
<text x="17.3" y="633" fill="#000" font-size="11" font-weight="normal" text-anchor="start" textLength="26.5" lengthAdjust="spacingAndGlyphs" >08:00</text>
<text x="74.3" y="633" fill="#000" font-size="11" font-weight="normal" text-anchor="start" textLength="26.5" lengthAdjust="spacingAndGlyphs" >09:00</text>
<text x="130.3" y="633" fill="#000" font-size="11" font-weight="normal" text-anchor="start" textLength="26.5" lengthAdjust="spacingAndGlyphs" >10:00</text>
<text x="186.3" y="633" fill="#000" font-size="11" font-weight="normal" text-anchor="start" textLength="26.5" lengthAdjust="spacingAndGlyphs" >11:00</text>
<text x="242.3" y="633" fill="#000" font-size="11" font-weight="normal" text-anchor="start" textLength="26.5" lengthAdjust="spacingAndGlyphs" >12:00</text>
<text x="298.3" y="633" fill="#000" font-size="11" font-weight="normal" text-anchor="start" textLength="26.5" lengthAdjust="spacingAndGlyphs" >13:00</text>
<text x="354.3" y="633" fill="#000" font-size="11" font-weight="normal" text-anchor="start" textLength="26.5" lengthAdjust="spacingAndGlyphs" >14:00</text>
<text x="410.3" y="633" fill="#000" font-size="11" font-weight="normal" text-anchor="start" textLength="26.5" lengthAdjust="spacingAndGlyphs" >15:00</text>
<text x="466.3" y="633" fill="#000" font-size="11" font-weight="normal" text-anchor="start" textLength="26.5" lengthAdjust="spacingAndGlyphs" >16:00</text>
<text x="522.3" y="633" fill="#000" font-size="11" font-weight="normal" text-anchor="start" textLength="26.5" lengthAdjust="spacingAndGlyphs" >17:00</text>
<text x="579.3" y="633" fill="#000" font-size="11" font-weight="normal" text-anchor="start" textLength="26.5" lengthAdjust="spacingAndGlyphs" >18:00</text>
<text x="635.3" y="633" fill="#000" font-size="11" font-weight="normal" text-anchor="start" textLength="26.5" lengthAdjust="spacingAndGlyphs" >19:00</text>
<text x="691.3" y="633" fill="#000" font-size="11" font-weight="normal" text-anchor="start" textLength="26.5" lengthAdjust="spacingAndGlyphs" >20:00</text>
<text x="742.3" y="633" fill="#000" font-size="11" font-weight="normal" text-anchor="start" textLength="26.5" lengthAdjust="spacingAndGlyphs" >07:00</text>
<text x="798.3" y="633" fill="#000" font-size="11" font-weight="normal" text-anchor="start" textLength="26.5" lengthAdjust="spacingAndGlyphs" >08:00</text>
<text x="854.3" y="633" fill="#000" font-size="11" font-weight="normal" text-anchor="start" textLength="26.5" lengthAdjust="spacingAndGlyphs" >09:00</text>
<text x="911.3" y="633" fill="#000" font-size="11" font-weight="normal" text-anchor="start" textLength="26.5" lengthAdjust="spacingAndGlyphs" >10:00</text>
<text x="967.3" y="633" fill="#000" font-size="11" font-weight="normal" text-anchor="start" textLength="26.5" lengthAdjust="spacingAndGlyphs" >11:00</text>
<text x="1023.3" y="633" fill="#000" font-size="11" font-weight="normal" text-anchor="start" textLength="26.5" lengthAdjust="spacingAndGlyphs" >12:00</text>
<text x="1079.3" y="633" fill="#000" font-size="11" font-weight="normal" text-anchor="start" textLength="26.5" lengthAdjust="spacingAndGlyphs" >13:00</text>
<text x="1135.3" y="633" fill="#000" font-size="11" font-weight="normal" text-anchor="start" textLength="26.5" lengthAdjust="spacingAndGlyphs" >14:00</text>
<text x="1191.3" y="633" fill="#000" font-size="11" font-weight="normal" text-anchor="start" textLength="26.5" lengthAdjust="spacingAndGlyphs" >15:00</text>
<text x="1247.3" y="633" fill="#000" font-size="11" font-weight="normal" text-anchor="start" textLength="26.5" lengthAdjust="spacingAndGlyphs" >16:00</text>
<text x="338" y="648" fill="#000" font-size="11" font-weight="normal" text-anchor="start" textLength="62" lengthAdjust="spacingAndGlyphs" >24-Fev-2014</text>
<text x="1005" y="648" fill="#000" font-size="11" font-weight="normal" text-anchor="start" textLength="62" lengthAdjust="spacingAndGlyphs" >25-Fev-2014</text>
<path d="M1339.5 1V650" stroke="#000" stroke-width="1" shape-rendering="crispEdges"/>
<path d="M1340 7.5h3M1340 19.5h3M1340 32.5h3M1340 45.5h3M1340 57.5h3M1340 70.5h3M1340 82.5h3M1340 95.5h3M1340 108.5h3M1340 120.5h3M1340 133.5h3M1340 145.5h3M1340 158.5h3M1340 170.5h3M1340 183.5h3M1340 196.5h3M1340 208.5h3M1340 221.5h3M1340 233.5h3M1340 246.5h3M1340 258.5h3M1340 271.5h3M1340 284.5h3M1340 296.5h3M1340 309.5h3M1340 321.5h3M1340 334.5h3M1340 346.5h3M1340 359.5h3M1340 372.5h3M1340 384.5h3M1340 397.5h3M1340 409.5h3M1340 422.5h3M1340 437.5h4M1340 492.5h4M1340 500.5h3M1340 522.5h3M1340 533.5h3M1340 555.5h3M1340 566.5h3M1340 575.5h3M1340 585.5h3M1340 594.5h3M1340 604.5h3M1340 613.5h3" stroke="#000" stroke-width="1" shape-rendering="crispEdges"/>
<text x="1346.5" y="61" fill="#000" font-size="11" font-weight="normal" text-anchor="start" textLength="43.5" lengthAdjust="spacingAndGlyphs" >9.750,00</text>
<text x="1346.5" y="124" fill="#000" font-size="11" font-weight="normal" text-anchor="start" textLength="43.5" lengthAdjust="spacingAndGlyphs" >9.725,00</text>
<text x="1346.5" y="187" fill="#000" font-size="11" font-weight="normal" text-anchor="start" textLength="43.5" lengthAdjust="spacingAndGlyphs" >9.700,00</text>
<text x="1346.5" y="313" fill="#000" font-size="11" font-weight="normal" text-anchor="start" textLength="43.5" lengthAdjust="spacingAndGlyphs" >9.650,00</text>
<g clip-path="url(#cpAxR)">
<text x="1347.5" y="441.5" fill="#000" font-size="11" font-weight="normal" text-anchor="start" textLength="32.5" lengthAdjust="spacingAndGlyphs" >100,00</text>
<text x="1346" y="497" fill="#000" font-size="11" font-weight="normal" text-anchor="start" textLength="21.5" lengthAdjust="spacingAndGlyphs" >0,00</text>
</g>
<g clip-path="url(#cpAxS)">
<text x="1347.5" y="504" fill="#000" font-size="11" font-weight="normal" text-anchor="start" textLength="32.5" lengthAdjust="spacingAndGlyphs" >100,00</text>
<text x="1346" y="560" fill="#000" font-size="11" font-weight="normal" text-anchor="start" textLength="21.5" lengthAdjust="spacingAndGlyphs" >0,00</text>
</g>
<text x="1347.5" y="598.5" fill="#000" font-size="11" font-weight="normal" text-anchor="start" textLength="21.5" lengthAdjust="spacingAndGlyphs" >0,00</text>
<g filter="url(#sh)"><rect x="1341.5" y="235.5" width="51" height="17" fill="#f6f4dc" stroke="#000" stroke-width="1"/></g>
<path d="M1341.5 241.0l-1.5 2.5l1.5 2.5" fill="#f6f4dc" stroke="#000" stroke-width="1"/>
<text x="1345" y="248" fill="#000" font-size="11" font-weight="normal" text-anchor="start" textLength="43.5" lengthAdjust="spacingAndGlyphs" >9.675,95</text>
<g filter="url(#sh)"><rect x="1341.5" y="256.5" width="51" height="17" fill="#f6f4dc" stroke="#000" stroke-width="1"/></g>
<path d="M1341.5 262.0l-1.5 2.5l1.5 2.5" fill="#f6f4dc" stroke="#000" stroke-width="1"/>
<text x="1345" y="269" fill="#000" font-size="11" font-weight="normal" text-anchor="start" textLength="43.5" lengthAdjust="spacingAndGlyphs" >9.667,45</text>
<g filter="url(#sh)"><rect x="1341.5" y="283.5" width="51" height="17" fill="#f6f4dc" stroke="#000" stroke-width="1"/></g>
<path d="M1341.5 289.0l-1.5 2.5l1.5 2.5" fill="#f6f4dc" stroke="#000" stroke-width="1"/>
<text x="1345" y="296" fill="#009640" font-size="11" font-weight="normal" text-anchor="start" textLength="43.5" lengthAdjust="spacingAndGlyphs" >9.656,95</text>
<g filter="url(#sh)"><rect x="1341.5" y="351.5" width="51" height="17" fill="#f6f4dc" stroke="#000" stroke-width="1"/></g>
<path d="M1341.5 357.0l-1.5 2.5l1.5 2.5" fill="#f6f4dc" stroke="#000" stroke-width="1"/>
<text x="1345" y="364" fill="#000" font-size="11" font-weight="normal" text-anchor="start" textLength="43.5" lengthAdjust="spacingAndGlyphs" >9.629,95</text>
<g filter="url(#sh)"><rect x="1341.5" y="367.5" width="51" height="17" fill="#f6f4dc" stroke="#000" stroke-width="1"/></g>
<path d="M1341.5 373.0l-1.5 2.5l1.5 2.5" fill="#f6f4dc" stroke="#000" stroke-width="1"/>
<text x="1345" y="380" fill="#000" font-size="11" font-weight="normal" text-anchor="start" textLength="43.5" lengthAdjust="spacingAndGlyphs" >9.623,59</text>
<g filter="url(#sh)"><rect x="1341.5" y="446.5" width="35" height="16" fill="#f6f4dc" stroke="#000" stroke-width="1"/></g>
<path d="M1341.5 452.0l-1.5 2.5l1.5 2.5" fill="#f6f4dc" stroke="#000" stroke-width="1"/>
<text x="1345" y="458" fill="#000" font-size="11" font-weight="normal" text-anchor="start" textLength="27" lengthAdjust="spacingAndGlyphs" >70,00</text>
<g filter="url(#sh)"><rect x="1341.5" y="457.5" width="35" height="16" fill="#f6f4dc" stroke="#000" stroke-width="1"/></g>
<path d="M1341.5 462.0l-1.5 2.5l1.5 2.5" fill="#f6f4dc" stroke="#000" stroke-width="1"/>
<text x="1345" y="469" fill="#000" font-size="11" font-weight="normal" text-anchor="start" textLength="27" lengthAdjust="spacingAndGlyphs" >50,00</text>
<g filter="url(#sh)"><rect x="1341.5" y="467.5" width="35" height="16" fill="#f6f4dc" stroke="#000" stroke-width="1"/></g>
<path d="M1341.5 473.0l-1.5 2.5l1.5 2.5" fill="#f6f4dc" stroke="#000" stroke-width="1"/>
<text x="1345" y="479" fill="#000" font-size="11" font-weight="normal" text-anchor="start" textLength="27" lengthAdjust="spacingAndGlyphs" >30,00</text>
<g filter="url(#sh)"><rect x="1341.5" y="503.5" width="35" height="16" fill="#f6f4dc" stroke="#000" stroke-width="1"/></g>
<path d="M1341.5 509.0l-1.5 2.5l1.5 2.5" fill="#f6f4dc" stroke="#000" stroke-width="1"/>
<text x="1345" y="515" fill="#000" font-size="11" font-weight="normal" text-anchor="start" textLength="27" lengthAdjust="spacingAndGlyphs" >80,00</text>
<g filter="url(#sh)"><rect x="1341.5" y="536.5" width="35" height="16" fill="#f6f4dc" stroke="#000" stroke-width="1"/></g>
<path d="M1341.5 542.0l-1.5 2.5l1.5 2.5" fill="#f6f4dc" stroke="#000" stroke-width="1"/>
<text x="1345" y="548" fill="#000" font-size="11" font-weight="normal" text-anchor="start" textLength="27" lengthAdjust="spacingAndGlyphs" >20,00</text>
</svg></body></html>
